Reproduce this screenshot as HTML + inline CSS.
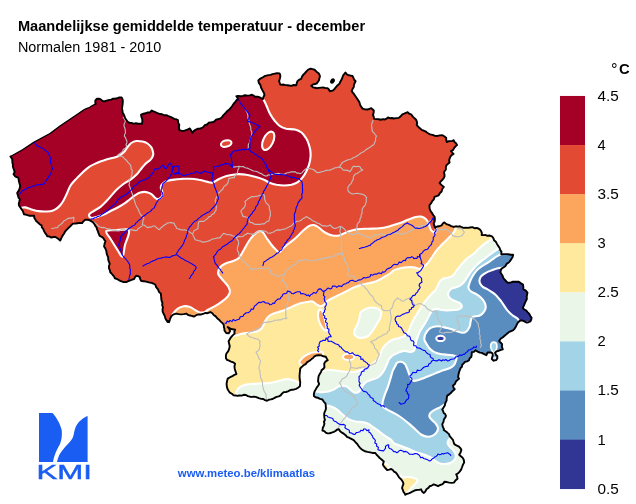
<!DOCTYPE html>
<html><head><meta charset="utf-8"><title>Maandelijkse gemiddelde temperatuur - december</title>
<style>
html,body{margin:0;padding:0;background:#fff}
body{width:636px;height:504px;overflow:hidden;position:relative;font-family:"Liberation Sans",Arial,Helvetica,sans-serif;color:#000}
svg{position:absolute;left:0;top:0;display:block}
svg text{font-family:"Liberation Sans",Arial,Helvetica,sans-serif}
</style></head><body>
<svg width="636" height="504" viewBox="0 0 636 504">
<defs><clipPath id="be"><path d="M10.5,156.5 L22.5,149.75 L33.75,142.25 L50,133.5 L60,126 L80,112.5 L81.6222,111.426 L83.1945,110.269 L84.8513,109.252 L86.9854,108.296 L89.2679,107.711 L91.1531,106.298 L93.3216,105.159 L95.5841,104.143 L95.2844,102.245 L95.3906,100.444 L96.9936,98.7427 L98.755,98.8047 L100.493,99.1016 L102.691,101.081 L105.054,101.233 L107.483,100.388 L109.349,99.9027 L111.292,99.6586 L113.044,98.6976 L115.037,98.6396 L117.237,98.3069 L119.301,97.3586 L121.59,97.3919 L122.227,98.5116 L122.779,100.11 L122.778,102.253 L122.587,104.51 L122.203,106.795 L121.933,109.096 L122.495,110.645 L122.595,112.674 L123.721,114.386 L124.532,116.237 L125.182,118.295 L126.416,120.045 L127.697,121.803 L129.591,122.909 L131.655,122.996 L133.706,123.876 L135.812,123.195 L137.875,123.763 L139.938,123.586 L142,123.935 L142.4,121.125 L142.144,118.75 L141.336,116.674 L141.074,114.55 L143.492,113.728 L145.601,113.269 L147.708,112.375 L149.993,112.433 L151.755,110.47 L153.586,111.477 L155.224,112.116 L157.544,113.103 L159.994,114.02 L162.146,114.238 L164.106,115.251 L166.343,115.111 L168.43,116.092 L170.498,116.964 L172.532,117.92 L174.252,118.89 L176.212,119.21 L177.94,120.165 L178.127,122.575 L179.326,124.935 L178.924,127.533 L179.411,130.009 L181.189,130.714 L182.973,131.093 L185.232,130.419 L187.421,129.645 L189.857,128.463 L191.265,130.75 L192.263,132.876 L193.542,131.258 L195.329,129.8 L197.529,128.797 L199.423,128.614 L201.303,128.263 L203.298,127.009 L204.809,125.213 L207.036,124.491 L208.593,122.765 L210.574,122.369 L212.475,122.311 L214.418,121.314 L216.024,119.661 L218.044,119.133 L219.971,118.664 L221.705,117.455 L222.936,115.686 L224.445,114.195 L225.918,112.668 L227.241,110.991 L229.325,109.594 L230.917,107.744 L232.341,105.753 L233.68,103.692 L235.128,102.051 L236.454,100.307 L238.106,98.84 L236.363,96.1708 L238.423,95.8927 L240.654,96.2106 L242.829,95.8854 L244.978,95.2477 L247.353,95.611 L249.678,95.3231 L251.984,94.7753 L253.582,95.5861 L254.899,96.7025 L257.574,96.6295 L260.011,97.4451 L262.839,99.1353 L263.546,96.7935 L264.503,95.0011 L263.994,93.1694 L263.135,91.5159 L262.232,89.884 L261.028,87.4889 L260.359,84.8563 L258.8,82.8389 L258.314,80.3605 L259.575,79.1853 L261.337,78.1129 L262.961,77.256 L264.496,76.1581 L266.322,75.6435 L268.355,75.0913 L270.519,74.9265 L272.535,74.146 L274.826,73.6133 L277.151,73.2263 L279.549,73.3452 L280.133,74.5841 L280.356,76.2942 L279.828,78.7157 L279.09,81.168 L280.273,84.458 L281.82,84.8146 L283.693,84.539 L285.489,85.1255 L287.404,85.3076 L289.314,85.5512 L291.221,85.8284 L293.726,85.0093 L296.282,85.3228 L296.743,83.081 L297.415,81.2215 L299.181,79.7097 L301.266,78.7738 L302.113,76.3974 L303.603,74.4135 L305.123,72.9695 L306.427,71.3858 L308.212,69.6237 L310.639,68.7153 L312.518,69.2029 L314.593,69.7517 L316.496,71.6828 L318.626,73.1757 L319.402,74.6147 L319.974,76.26 L319.395,78.3503 L318.885,80.4729 L317.802,81.8677 L316.799,83.3657 L315.033,84.0177 L313.054,84.4281 L311.213,85.7843 L313.123,87.3775 L314.91,87.7389 L316.797,88.2468 L318.756,87.9254 L321.238,87.6329 L323.755,87.5513 L325.572,88.1499 L327.49,88.0785 L328.896,89.5126 L329.817,91.3908 L333.17,90.4086 L334.804,88.6942 L336.188,86.9328 L337.666,85.1664 L339.475,83.7251 L340.462,81.4555 L341.713,79.3315 L342.453,77.2396 L343.308,75.0684 L344.378,73.8785 L345.448,72.4479 L346.848,74.3005 L348.946,75.2876 L350.669,75.6545 L352.54,76.0502 L353.444,77.9503 L354.199,79.7638 L355.591,81.1957 L354.635,83.0811 L353.957,84.9688 L353.768,87.0055 L352.548,88.9904 L351.676,91.1166 L353.018,92.9057 L354.255,94.4303 L355.328,96.0531 L356.683,97.9786 L358.028,99.9774 L359.405,102.338 L360.142,104.943 L361.254,106.872 L362.623,108.668 L364.969,109.333 L367.491,109.562 L369.386,108.778 L371.295,108.112 L372.447,109.303 L373.805,110.445 L373.672,112.799 L372.922,114.987 L373.775,116.925 L374.16,118.923 L376.264,119.109 L378.774,119.258 L380.833,119.73 L382.917,119.193 L385,119.445 L386.598,118.646 L387.959,117.438 L389.858,118.185 L391.907,117.997 L393.813,118.461 L396.22,118.175 L398.732,117.88 L400.662,116.289 L402.315,114.301 L404.19,113.714 L405.915,112.996 L407.561,112.123 L409.198,113.722 L411.485,114.706 L412.81,116.619 L414.448,118.15 L416.054,119.717 L416.812,121.291 L417.119,123.116 L416.769,125.032 L418.397,126.957 L420.234,128.563 L421.695,129.887 L423.586,130.594 L425.457,131.344 L426.863,132.523 L428.441,133.498 L430.084,134.383 L432.616,134.865 L435.041,135.864 L437.507,135.946 L439.981,135.386 L442.481,135.212 L444.569,136.459 L446.252,137.997 L446.212,140.077 L446.796,142.038 L448.658,141.196 L450.477,141.142 L452.162,141.035 L453.668,140.147 L454.618,142.155 L456.11,143.361 L457.041,144.97 L455.547,146.331 L454.241,147.784 L453.142,149.892 L451.048,151.048 L452.261,152.739 L453.535,153.965 L451.975,154.805 L450.57,156.341 L449.777,158.196 L449.121,160.173 L449.589,162.473 L447.984,163.892 L446.437,165.243 L445.851,167.25 L445.907,169.5 L444.786,170.822 L443.891,172.618 L444.457,174.309 L444.564,176.237 L443.57,178.339 L442.11,180.073 L440.676,181.439 L439.626,183.105 L441.362,184.902 L443.847,186.878 L442.245,188.975 L441.611,191.462 L439.757,193.232 L438.664,195.45 L436.611,196.209 L434.442,196.836 L433.892,199.31 L432.204,201.111 L431.148,203.244 L429.571,205.056 L429.489,206.25 L429.646,208.821 L430.74,211.202 L432.109,213.139 L433.416,215.29 L434.621,216.793 L434.874,218.792 L434.669,221.323 L433.691,223.735 L434.431,225.606 L434.944,227.519 L437.397,226.464 L439.935,225.99 L441.731,225.277 L442.815,223.529 L444.385,222.362 L446.402,224.129 L448.862,224.81 L451.223,226.067 L453.773,226.942 L455.78,226.306 L457.932,226.628 L460,226.253 L461.714,227.208 L463.537,227.825 L465.616,227.635 L467.839,227.913 L470.156,227.524 L472.476,227.17 L474.51,228.285 L476.739,227.972 L478.75,228.752 L480.17,229.83 L481.204,231.296 L481.882,233.074 L481.687,235.063 L483.839,235.11 L485.691,235.066 L487.476,235.769 L489.804,235.551 L491.965,236.461 L493.338,238.007 L494.028,240.16 L495.8,241.654 L496.851,243.652 L498.167,245.885 L499.637,248.042 L500.237,249.975 L501.395,251.627 L501.307,254.322 L503.482,254.132 L505.903,254.098 L508.286,254.277 L510.653,254.785 L513.106,254.801 L512.627,257.039 L511.563,258.671 L510.291,260.635 L508.778,262.507 L506.598,263.918 L505.299,266.189 L503.269,267.573 L501.292,268.896 L500.803,270.435 L500.388,272.256 L501.316,273.823 L502.495,275.596 L503.333,278.141 L505.189,280.067 L506.291,281.569 L507.81,282.73 L510.394,282.61 L512.982,281.617 L515.715,281.82 L518.39,281.638 L520.715,283.15 L522.971,284.455 L523.347,286.867 L523.358,289.188 L525.836,290.594 L527.491,292.509 L527.046,294.755 L526.666,296.821 L526.898,298.939 L525.829,301.215 L524.788,303.461 L523.854,305.667 L522.828,307.847 L524.022,309.378 L525.844,310.236 L527.531,312.119 L529.287,313.933 L530.363,315.96 L531.602,317.821 L531.241,319.638 L530.402,321.451 L528.521,322.199 L526.811,322.554 L523.816,321.09 L522.068,320.392 L520.152,320.474 L517.907,322.55 L516.68,324.89 L515.787,326.762 L514.679,328.579 L513.243,330.178 L511.144,331.091 L509.258,331.873 L507.586,333.185 L505.144,335.18 L502.89,337.168 L500.602,338.831 L499.133,341.083 L500.492,342.494 L502.132,344.194 L501.891,346.889 L502.824,349.244 L500.816,349.949 L498.518,350.846 L496.154,351.531 L495.004,352.802 L496.168,355.104 L497.354,356.01 L497.388,358.23 L496.251,360.125 L493.616,360.677 L491.81,359.106 L492.081,357.63 L492.737,355.177 L492.564,353.371 L490.599,352.426 L487.612,352.462 L486.416,355.156 L483.612,353.971 L481.943,352.848 L479.849,352.621 L477.679,351.578 L475.592,350.27 L473.943,351.837 L471.81,352.168 L471.666,354.757 L471.259,357.001 L469.657,358.214 L469.037,360.239 L467.078,361.381 L464.973,361.95 L463.657,363.423 L462.249,364.791 L461.914,366.79 L460.525,368.179 L459.873,369.937 L458.934,372.474 L458.401,375.161 L458.111,376.928 L458.999,378.7 L457.384,380.153 L455.909,381.466 L454.956,383.912 L453.048,385.541 L453.384,387.522 L454.678,389.179 L452.645,390.926 L451.033,392.812 L449.268,394.366 L447.22,395.65 L446.697,398.2 L446.593,400.595 L445.326,402.925 L444.78,405.445 L443.58,407.439 L442.284,409.477 L443.063,411.037 L443.728,413.01 L445.159,414.091 L445.94,415.81 L445.256,417.546 L443.919,419.363 L443.454,421.832 L442.283,424.196 L442.838,426.822 L443.968,429.196 L443.696,430.019 L446.348,431.715 L447.598,432.889 L449.031,434.106 L449.653,435.982 L451.198,437.935 L452.945,439.803 L453.594,441.984 L454.3,444.1 L456.344,445.307 L458.517,446.268 L460.147,447.853 L461.42,449.704 L460.558,452.405 L459.198,454.749 L460.885,456.254 L462.642,457.671 L463.82,459.937 L464.152,462.515 L462.868,464.898 L461.94,467.474 L461.081,469.665 L459.67,471.585 L458.208,473.22 L456.232,474.397 L457.185,476.628 L457.465,478.739 L455.377,480.577 L453.865,482.565 L451.494,482.921 L449.237,482.615 L446.918,482.061 L444.35,481.774 L443.576,483.26 L442.034,484.374 L440.041,485.022 L438.093,486.179 L435.865,485.153 L433.739,484.379 L431.717,485.551 L429.611,486.232 L428.434,487.917 L426.463,489.21 L425.39,491.266 L423.915,492.995 L422.079,491.407 L421.105,489.316 L419.161,489.856 L417.262,489.829 L415.417,490.234 L412.953,491.276 L410.559,492.579 L408.847,493.302 L406.944,493.814 L405.297,494.757 L404.697,493.425 L403.552,492.009 L402.866,490.011 L402.009,487.964 L402.69,485.879 L403.487,483.761 L402.621,481.415 L401.284,479.458 L399.837,478.063 L398.545,476.555 L397.26,474.381 L395.626,472.383 L393.894,471.568 L392.793,469.993 L391.211,469.009 L389.255,469.58 L387.167,470.003 L385.718,468.526 L384.546,467.172 L382.846,464.675 L383.794,461.564 L381.27,459.184 L379.667,458.005 L378.222,456.405 L376.633,454.769 L375.159,452.873 L372.482,452.933 L370.015,452.35 L367.459,451.885 L364.922,451.26 L363.345,450.391 L361.853,449.502 L360.074,447.843 L358.597,445.986 L357.234,444.016 L355.407,442.101 L353.659,440.07 L351.297,438.882 L348.891,437.647 L346.953,436.924 L345.643,435.199 L344.01,433.903 L341.989,432.678 L340.139,431.195 L338.865,429.135 L336.915,429.746 L335.47,431.023 L333.825,431.9 L331.731,432.561 L329.675,433.242 L327.46,433.358 L325.736,432.663 L324.367,431.166 L322.457,430.571 L322.801,427.919 L323.896,425.536 L324.429,423.725 L323.92,421.788 L324.919,420.057 L324.394,417.899 L324.239,415.805 L324.148,413.702 L324.622,412.103 L325.445,410.431 L325.962,408.606 L325.796,406.262 L325.547,403.743 L323.827,401.747 L322.452,399.534 L319.97,398.85 L317.587,397.709 L315.566,397.251 L313.901,395.927 L313.883,393.714 L314.635,391.27 L315.75,389.375 L316.851,387.401 L318.103,385.731 L319.149,383.936 L318.043,381.3 L318.277,378.708 L318.641,376.106 L319.879,373.702 L321.015,372.005 L321.647,370.132 L323.109,369.055 L324.421,367.397 L324.337,365.583 L324.171,363.666 L325.348,361.598 L327.709,360.209 L326.668,358.388 L325.824,356.784 L323.36,356.292 L321.293,355.378 L318.75,355.264 L316.25,355.503 L314.476,356.419 L313.056,357.881 L311.473,359.094 L309.553,360.803 L307.191,362.191 L305.664,364.048 L303.532,365.227 L301.826,366.826 L300.235,368.485 L299.956,371.241 L299.687,373.787 L299.569,375.841 L299.591,377.936 L299.801,380.016 L300.253,382.117 L300.065,384.198 L299.919,386.284 L298.013,387.679 L296.308,388.826 L294.198,389.445 L292.02,389.692 L289.936,390.271 L287.976,391.352 L285.875,391.963 L283.643,392.165 L281.98,393.612 L280.669,395.337 L278.842,396.373 L276.559,396.813 L274.571,397.886 L272.6,399 L270.69,399.406 L268.785,399.765 L267.088,400.777 L265.019,400.128 L263.256,399.04 L261.221,398.845 L258.731,398.201 L256.357,397.073 L254.248,396.679 L252.049,396.84 L249.912,396.691 L247.859,396.123 L245.917,394.997 L243.786,394.821 L241.714,395.653 L239.512,395.477 L237.433,395.917 L235.685,395.444 L233.613,395.412 L231.889,393.729 L229.861,392.708 L228.567,390.747 L227.42,388.803 L226.789,386.272 L226.585,383.666 L227.018,381.213 L227.716,378.651 L230.1,377.229 L232.484,376.221 L234.264,374.833 L236.419,374.004 L235.485,371.211 L234.697,368.681 L234.461,366.221 L235.06,363.756 L233.22,362.357 L231.024,361.588 L229.099,360.712 L227.043,359.855 L225.96,358.241 L225.882,356.097 L226.101,354.467 L226.859,352.763 L228.151,351.326 L229.168,348.876 L229.735,346.321 L229.153,343.746 L228.597,341.273 L229.787,339.233 L230.924,337.283 L232.682,335.343 L234.59,333.573 L234.373,331.588 L235.139,329.723 L232.502,329.293 L230.427,328.518 L227.663,326.974 L229.014,328.333 L230.139,331.066 L228.628,333.419 L226.2,333.048 L224.466,330.564 L224.424,328.655 L223.849,326.95 L223.799,324.945 L222.648,323.32 L220.728,321.646 L219.013,319.685 L217.18,318.236 L215.73,316.353 L213.705,315.045 L212.352,313.254 L210.46,312.043 L207.563,313.19 L205.544,312.968 L203.728,313.641 L201.298,314.442 L198.741,314.439 L196.193,315.213 L193.858,316.559 L191.872,315.89 L189.99,315.549 L188.004,314.883 L186.321,313.598 L183.752,314.136 L181.237,314.415 L178.755,314.093 L176.265,313.648 L174.296,314.137 L172.505,315.014 L171.131,316.678 L170.181,318.58 L169.661,320.394 L169.05,322.162 L166.244,320.007 L165.278,318.17 L164.817,316.102 L163.59,313.798 L162.621,311.364 L162.56,309.189 L163.006,307.056 L162.161,305.027 L162.445,302.844 L161.605,300.846 L161.286,298.743 L161.102,296.216 L160.827,293.701 L158.95,291.802 L158.069,289.46 L156.267,287.405 L155.34,284.773 L153.26,283.547 L151.127,282.684 L148.736,282.388 L146.293,281.574 L143.811,281.217 L141.286,281.012 L140.227,279.242 L139.758,277.071 L138.16,276.164 L136.152,275.745 L134.988,277.116 L134.102,279.021 L132.099,279.615 L130.426,280.436 L128.618,280.985 L126.283,282.009 L123.663,282.151 L121.508,281.449 L119.28,280.374 L117.232,279.04 L114.878,278.274 L114.057,276.312 L112.717,274.975 L111.544,273.49 L110.186,272.199 L109.885,270.266 L109.083,268.583 L108.931,266.221 L109.78,263.792 L108.885,261.694 L108.225,259.649 L108.154,257.463 L107.273,255.457 L106.661,253.381 L106.375,251.215 L105.501,248.706 L104.088,246.394 L104.584,243.667 L105.532,241.256 L104.3,239.8 L103.439,238.167 L101.774,236.763 L99.6549,235.874 L98.6769,233.679 L97.854,231.108 L96.9948,229.277 L96.5291,227.291 L95.078,225.647 L94.9047,224.814 L93.902,223.446 L92.8829,222.085 L91.1471,221.18 L89.4196,220.141 L87.5,219.781 L85.5,219.596 L83.5028,221.212 L82.0644,223.075 L79.75,222.907 L77.5,223.242 L75.2873,223.668 L72.9197,223.638 L71.2298,225.222 L69.7156,226.802 L67.8877,228.51 L66.0481,230.336 L64.875,231.896 L64.0186,233.724 L62.7108,235.427 L61.6383,237.333 L60.9781,238.98 L60.2079,240.596 L58.1824,238.757 L55.53,236.963 L53.3431,236.979 L51.2609,237.592 L49.4893,236.464 L47.3353,236.412 L46.3811,234.579 L45.2684,233.154 L44.0734,231.11 L43.1795,228.888 L41.8664,227.379 L41.5542,225.348 L39.6685,224.193 L38.2061,222.732 L36.3859,221.228 L35.1656,219.209 L34.2619,217.712 L34.1286,215.779 L31.6623,215.694 L29.5207,215.725 L27.4698,215.189 L25.7139,214.626 L23.9404,214.209 L22.8421,211.053 L21.8047,209.63 L20.8116,208.126 L18.9519,205.538 L18.8194,203.307 L19.4215,201.173 L19.7757,199.021 L18.4892,197.63 L18.1104,195.945 L17.1587,192.947 L18.8712,190.397 L19.6514,188.217 L20.1924,185.897 L19.5954,183.708 L18.8933,181.325 L18.6989,179.593 L18.1433,177.707 L16.7247,177.06 L15.1034,176.292 L13.5315,174.103 L14.6032,172.206 L14.1589,170.134 L13.4026,168.309 L12.8337,166.448 L12.9231,164.456 L12.4165,162.631 L12.2909,160.736 L12.1329,158.847Z"/></clipPath></defs>
<g clip-path="url(#be)">
<rect x="0" y="60" width="560" height="444" fill="#e34a33"/>
<path d="M263.0,98.8 C263.5,99.8 265.1,102.5 266.2,105.0 C267.4,107.5 268.5,111.0 270.0,113.8 C271.5,116.5 273.3,119.2 275.0,121.2 C276.7,123.3 278.1,125.0 280.0,126.2 C281.9,127.5 283.8,128.2 286.2,128.8 C288.8,129.3 292.5,128.9 295.0,129.5 C297.5,130.1 299.7,131.1 301.5,132.5 C303.3,133.9 304.8,136.2 306.0,138.0 C307.2,139.8 307.8,141.5 308.5,143.5 C309.2,145.5 309.9,147.5 310.2,149.8 C310.6,152.0 310.7,154.8 310.5,157.2 C310.3,159.8 309.7,162.5 309.0,164.8 C308.3,167.0 307.5,168.9 306.5,171.0 C305.5,173.1 304.2,175.4 302.8,177.2 C301.3,179.1 299.6,181.0 297.8,182.2 C295.9,183.5 293.8,184.2 291.5,184.8 C289.2,185.3 286.5,185.5 284.0,185.5 C281.5,185.5 278.8,185.2 276.5,184.8 C274.2,184.3 272.3,183.8 270.2,183.0 C268.2,182.2 266.3,180.7 264.0,179.8 C261.7,178.8 259.4,178.1 256.5,177.2 C253.6,176.4 249.8,175.2 246.5,174.8 C243.2,174.2 239.8,174.0 236.5,174.2 C233.2,174.5 229.4,175.2 226.5,176.0 C223.6,176.8 221.3,177.9 219.0,179.0 C216.7,180.1 214.4,182.1 212.8,182.6 C211.1,183.1 211.3,182.7 209.0,182.2 C206.7,181.8 202.3,180.3 199.0,179.8 C195.7,179.2 192.2,178.8 189.4,178.7 C186.6,178.6 184.4,178.8 181.9,178.9 C179.4,179.1 176.7,179.3 174.3,179.6 C171.9,179.9 169.4,180.3 167.7,180.8 C166.0,181.2 165.0,181.8 164.0,182.5 C163.0,183.2 162.0,184.0 161.5,184.9 C161.0,185.8 160.7,186.6 160.8,187.7 C160.8,188.8 161.8,190.2 162.1,191.5 C162.4,192.8 162.9,194.2 162.6,195.3 C162.3,196.4 161.1,197.5 160.2,198.1 C159.3,198.7 158.3,199.2 157.4,199.1 C156.5,198.9 155.4,198.0 154.5,197.2 C153.6,196.4 152.8,195.1 151.7,194.3 C150.6,193.5 149.2,193.0 147.9,192.6 C146.7,192.2 145.4,191.9 144.2,191.9 C142.9,191.9 141.7,192.1 140.4,192.5 C139.1,192.9 137.7,193.7 136.6,194.3 C135.5,194.9 135.1,195.2 133.8,196.2 C132.6,197.1 130.5,198.9 129.1,200.0 C127.7,201.1 127.2,201.6 125.3,202.8 C123.4,204.1 120.2,206.1 117.7,207.5 C115.2,208.9 112.7,210.0 110.2,211.3 C107.7,212.6 105.4,214.0 102.6,215.1 C99.8,216.2 95.3,217.6 93.2,217.9 C91.1,218.2 90.4,217.6 89.8,217.0 C89.2,216.4 88.8,215.1 89.4,214.2 C90.0,213.2 91.3,212.6 93.2,211.3 C95.1,210.0 98.3,208.6 100.8,206.6 C103.3,204.6 105.8,201.8 108.3,199.1 C110.8,196.4 113.3,193.1 115.8,190.6 C118.3,188.1 120.9,185.9 123.4,184.0 C125.9,182.1 128.7,180.9 130.9,179.3 C133.1,177.7 135.0,176.1 136.6,174.5 C138.2,172.9 139.0,171.5 140.4,169.8 C141.8,168.1 143.4,165.9 145.1,164.2 C146.8,162.5 149.4,161.0 150.8,159.4 C152.1,157.8 152.9,156.2 153.2,154.7 C153.5,153.2 152.9,151.7 152.6,150.5 C152.3,149.3 152.1,148.4 151.2,147.2 C150.4,146.1 149.0,144.5 147.5,143.5 C146.0,142.5 144.4,141.9 142.5,141.5 C140.6,141.1 138.1,140.8 136.2,141.0 C134.4,141.2 132.7,142.0 131.2,143.0 C129.8,144.0 128.8,145.7 127.5,147.2 C126.2,148.8 125.4,150.7 123.8,152.2 C122.1,153.8 119.8,155.5 117.5,156.5 C115.2,157.5 112.2,157.9 110.0,158.5 C107.8,159.1 106.5,159.4 104.3,160.2 C102.1,160.9 99.3,161.9 96.8,163.0 C94.3,164.1 91.6,165.2 89.2,166.8 C86.8,168.4 84.8,170.4 82.6,172.5 C80.4,174.6 78.0,176.9 76.0,179.1 C74.0,181.3 72.0,183.2 70.4,185.7 C68.8,188.2 67.9,191.5 66.6,194.2 C65.3,196.9 64.2,199.5 62.8,201.7 C61.4,203.9 59.8,205.9 58.1,207.4 C56.4,208.9 54.5,210.1 52.5,210.8 C50.5,211.5 48.2,211.4 45.8,211.5 C43.4,211.6 40.8,211.5 38.3,211.1 C35.8,210.7 33.0,209.8 30.8,209.2 C28.6,208.6 26.8,207.7 25.1,207.4 C23.5,207.2 22.8,207.6 20.9,207.7 C19.0,207.8 15.2,207.9 14.0,208.0 L0,208 L0,60 L236,60 L236,94 L252,93.5 L262,96.5Z" fill="#a50026" stroke="#fff" stroke-width="2.1" stroke-linejoin="round"/>
<ellipse cx="226.2" cy="143.6" rx="5.4" ry="3.1" transform="rotate(-15 226.2 143.6)" fill="#e34a33" stroke="#fff" stroke-width="2.1"/>
<ellipse cx="268.2" cy="140.8" rx="5.0" ry="9.8" transform="rotate(25 268.2 140.8)" fill="#e34a33" stroke="#fff" stroke-width="2.1"/>
<path d="M106.2,231.2 C107.0,229.6 112.4,230.5 116.0,230.2 C119.6,229.9 125.9,228.8 128.0,229.6 C130.1,230.4 129.0,232.4 128.5,235.0 C128.0,237.6 126.0,241.4 125.0,245.0 C124.0,248.6 123.8,255.7 122.5,256.5 C121.2,257.3 119.4,252.8 117.5,250.0 C115.6,247.2 113.1,243.1 111.2,240.0 C109.4,236.9 105.5,232.9 106.2,231.2Z" fill="#a50026" stroke="#fff" stroke-width="2.1" stroke-linejoin="round"/>
<path d="M172.5,314.5 C173.3,313.5 175.6,310.1 177.5,308.8 C179.4,307.4 181.7,306.5 183.8,306.2 C185.8,306.0 188.1,306.4 190.0,307.0 C191.9,307.6 193.3,309.1 195.0,310.0 C196.7,310.9 198.3,312.2 200.0,312.5 C201.7,312.8 203.8,312.4 205.0,312.0 C206.2,311.6 205.8,311.0 207.5,310.0 C209.2,309.0 212.5,307.7 215.0,306.2 C217.5,304.8 220.3,302.9 222.5,301.2 C224.7,299.6 226.8,297.9 228.0,296.2 C229.2,294.6 230.0,292.9 230.0,291.2 C230.0,289.6 229.0,287.9 228.0,286.2 C227.0,284.6 225.2,282.9 223.8,281.2 C222.3,279.6 220.5,277.7 219.5,276.2 C218.5,274.8 217.9,274.0 218.0,272.5 C218.1,271.0 218.8,269.0 220.0,267.5 C221.2,266.0 222.9,264.8 225.0,263.8 C227.1,262.7 230.2,262.2 232.5,261.2 C234.8,260.3 236.9,259.9 238.8,258.0 C240.6,256.1 242.1,252.8 243.8,250.0 C245.4,247.2 247.1,243.8 248.8,241.2 C250.4,238.8 252.1,236.7 253.8,235.0 C255.4,233.3 257.3,231.8 258.8,231.2 C260.2,230.8 261.2,231.0 262.5,232.0 C263.8,233.0 264.8,235.4 266.2,237.5 C267.7,239.6 269.6,242.4 271.2,244.5 C272.9,246.6 274.9,248.8 276.2,250.0 C277.6,251.2 278.2,252.4 279.5,252.0 C280.8,251.6 282.0,249.1 283.8,247.5 C285.5,245.9 287.9,244.2 290.0,242.5 C292.1,240.8 294.2,239.4 296.2,237.5 C298.3,235.6 300.4,233.1 302.5,231.2 C304.6,229.4 306.9,227.3 308.8,226.2 C310.6,225.2 312.1,224.8 313.8,225.0 C315.4,225.2 316.9,226.2 318.8,227.5 C320.6,228.8 322.7,231.2 325.0,232.5 C327.3,233.8 330.0,235.1 332.5,235.5 C335.0,235.9 337.5,235.8 340.0,235.2 C342.5,234.6 344.7,232.7 347.5,231.7 C350.3,230.7 353.5,229.7 357.0,229.2 C360.5,228.7 364.5,228.8 368.3,228.7 C372.1,228.5 376.2,228.7 379.6,228.3 C383.1,227.9 385.9,227.2 389.0,226.4 C392.1,225.6 395.4,224.7 398.5,223.6 C401.6,222.5 405.1,220.9 407.9,219.8 C410.7,218.7 413.3,217.5 415.5,217.0 C417.7,216.5 419.4,216.3 421.1,216.6 C422.8,216.9 424.5,217.7 425.8,218.9 C427.1,220.1 428.0,222.0 428.7,223.6 C429.4,225.2 429.6,227.0 430.2,228.3 C430.8,229.7 431.6,231.0 432.5,231.7 C433.4,232.4 434.8,232.4 435.3,232.5 L437,220 L560,220 L560,504 L172.5,504Z" fill="#fca55d" stroke="#fff" stroke-width="2.1" stroke-linejoin="round"/>
<path d="M231.0,336.2 C231.8,336.1 234.3,335.8 236.1,335.4 C237.9,335.0 239.7,334.1 241.8,333.7 C243.9,333.3 246.6,333.1 248.9,332.8 C251.2,332.5 254.0,332.3 255.9,331.8 C257.8,331.3 259.0,330.6 260.2,329.7 C261.4,328.8 262.2,327.6 263.0,326.2 C263.8,324.8 264.3,322.7 265.1,321.2 C265.9,319.7 266.8,318.2 268.0,317.0 C269.2,315.8 270.4,314.9 272.2,314.1 C274.0,313.3 276.6,312.6 278.6,312.0 C280.6,311.4 282.3,310.9 284.2,310.2 C286.1,309.5 288.0,308.7 289.9,307.8 C291.8,306.9 293.7,305.8 295.6,305.0 C297.5,304.2 299.3,303.6 301.2,303.1 C303.1,302.6 305.0,302.4 306.9,302.1 C308.8,301.8 310.8,301.0 312.5,301.5 C314.2,302.0 315.8,304.1 317.2,304.9 C318.6,305.7 319.6,306.3 320.9,306.2 C322.1,306.1 323.4,305.0 324.7,304.0 C326.0,303.0 326.6,301.5 328.5,300.2 C330.4,298.9 333.2,297.8 336.0,296.4 C338.8,295.0 342.4,293.3 345.5,291.7 C348.6,290.1 351.8,288.2 354.9,287.0 C358.0,285.8 360.8,285.1 364.3,284.2 C367.8,283.3 372.2,282.8 375.7,281.5 C379.2,280.2 382.7,277.8 385.1,276.5 C387.5,275.2 388.4,274.6 390.0,273.5 C391.6,272.4 392.3,270.9 394.7,269.9 C397.1,268.9 401.0,267.9 404.2,267.5 C407.4,267.1 411.1,267.1 413.6,267.3 C416.1,267.5 417.6,268.9 419.2,268.9 C420.8,268.8 421.6,267.9 423.0,267.0 C424.4,266.1 426.1,264.9 427.7,263.2 C429.3,261.4 430.9,258.6 432.4,256.5 C433.9,254.4 435.0,252.4 436.6,250.4 C438.2,248.4 440.3,246.2 442.2,244.3 C444.1,242.4 446.2,240.3 447.9,238.7 C449.6,237.0 451.0,235.8 452.2,234.4 C453.4,233.0 454.3,231.9 454.9,230.5 C455.5,229.1 455.8,226.8 456.0,226.0 L456,220 L560,220 L560,504 L222,504 L222,338Z" fill="#fee99d" stroke="#fff" stroke-width="2.1" stroke-linejoin="round"/>
<path d="M319.5,309.6 C320.1,309.1 321.2,309.7 321.9,310.6 C322.6,311.6 323.2,313.3 323.8,315.3 C324.4,317.3 325.2,320.3 325.7,322.8 C326.2,325.3 326.9,329.3 326.6,330.4 C326.3,331.5 324.8,330.3 323.8,329.4 C322.8,328.4 321.5,326.4 320.6,324.7 C319.7,323.0 318.9,321.0 318.5,319.1 C318.1,317.2 317.9,315.0 318.1,313.4 C318.3,311.8 318.9,310.1 319.5,309.6Z" fill="#fca55d" stroke="#fff" stroke-width="2.1" stroke-linejoin="round"/>
<ellipse cx="348.6" cy="356.9" rx="5.6" ry="3.2" transform="rotate(0 348.6 356.9)" fill="#fca55d" stroke="#fff" stroke-width="2.1"/>
<path d="M299.5,363.6 C298.7,362.2 301.2,359.1 302.8,357.5 C304.4,355.9 306.8,354.7 308.8,353.8 C310.8,352.9 312.8,352.6 315.0,352.3 C317.2,352.0 320.8,351.4 322.0,352.0 C323.2,352.6 323.8,354.8 322.0,356.0 C320.2,357.2 313.4,357.5 311.0,359.2 C308.6,360.9 309.6,365.3 307.7,366.0 C305.8,366.7 300.3,365.0 299.5,363.6Z" fill="#fca55d" stroke="#fff" stroke-width="2.1" stroke-linejoin="round"/>
<path d="M360.6,312.5 C361.7,311.1 363.9,309.5 366.2,308.7 C368.5,307.9 372.3,307.4 374.7,307.7 C377.1,308.0 379.4,309.2 380.4,310.6 C381.4,312.0 381.4,314.2 380.9,316.2 C380.4,318.2 378.9,320.4 377.5,322.8 C376.1,325.2 374.4,328.2 372.8,330.4 C371.2,332.6 370.1,334.8 368.1,336.0 C366.1,337.2 362.8,338.0 360.6,337.9 C358.4,337.8 355.9,336.4 354.9,335.1 C353.9,333.9 354.0,332.3 354.5,330.4 C355.0,328.5 356.8,326.0 357.7,323.8 C358.6,321.6 359.1,319.1 359.6,317.2 C360.1,315.3 359.5,313.9 360.6,312.5Z" fill="#e9f6e8" stroke="#fff" stroke-width="2.1" stroke-linejoin="round"/>
<path d="M235.7,395.2 C235.9,394.4 236.3,391.7 237.1,390.3 C237.9,388.9 239.1,387.6 240.6,386.7 C242.1,385.8 244.2,385.1 246.3,384.6 C248.4,384.1 251.1,384.1 253.4,383.9 C255.8,383.7 258.0,383.6 260.4,383.5 C262.8,383.4 265.1,383.4 267.5,383.2 C269.9,383.0 272.5,382.6 274.6,382.1 C276.7,381.6 278.3,380.9 280.2,380.4 C282.1,379.9 284.0,379.3 285.9,379.2 C287.8,379.1 289.8,379.3 291.6,379.7 C293.4,380.1 295.2,380.8 296.5,381.5 C297.8,382.2 298.8,383.5 299.3,383.9 L304,386 L304,410 L230,410 L230,397Z" fill="#e9f6e8" stroke="#fff" stroke-width="2.1" stroke-linejoin="round"/>
<path d="M492.5,236.5 C492.1,237.1 491.4,238.8 490.2,239.9 C489.0,241.0 486.9,242.0 485.1,243.3 C483.3,244.7 481.3,246.3 479.4,248.0 C477.5,249.7 475.8,252.0 473.8,253.7 C471.8,255.4 469.2,256.8 467.4,258.3 C465.6,259.8 464.4,261.2 463.0,262.7 C461.6,264.2 460.4,265.6 459.2,267.1 C458.0,268.6 456.9,270.1 455.9,271.5 C454.9,272.9 454.3,274.4 453.1,275.4 C451.9,276.4 450.4,277.1 448.7,277.6 C447.0,278.2 444.7,278.1 443.2,278.7 C441.7,279.3 440.8,280.2 439.9,281.4 C439.0,282.6 438.4,284.3 437.7,285.8 C437.0,287.3 436.4,288.9 435.5,290.2 C434.6,291.4 433.4,292.0 432.2,293.3 C430.9,294.6 429.4,296.3 428.0,298.0 C426.6,299.7 424.8,301.9 423.5,303.7 C422.2,305.5 421.6,306.7 420.1,309.0 C418.7,311.3 416.3,314.8 414.8,317.4 C413.3,320.0 412.4,322.1 411.3,324.5 C410.2,326.9 409.5,329.7 408.4,331.6 C407.3,333.5 406.4,334.8 404.9,335.8 C403.4,336.9 400.8,337.4 399.2,337.9 C397.6,338.4 395.9,338.7 395.0,338.9 C394.1,339.1 394.7,338.6 393.5,339.2 C392.3,339.8 389.4,341.4 387.8,342.7 C386.2,344.0 384.7,345.6 383.6,347.0 C382.5,348.4 382.1,349.6 381.4,351.2 C380.7,352.8 380.4,355.1 379.3,356.9 C378.2,358.7 376.8,360.3 375.1,361.8 C373.5,363.3 371.5,364.8 369.4,366.1 C367.3,367.4 364.6,368.7 362.3,369.6 C360.0,370.5 357.7,371.3 355.3,371.7 C352.9,372.1 350.6,372.2 348.2,372.1 C345.8,372.0 343.5,371.6 341.1,371.3 C338.7,371.0 336.1,370.5 334.0,370.3 C331.9,370.1 330.0,369.8 328.4,369.9 C326.8,370.0 325.7,370.7 324.1,371.0 C322.5,371.3 319.9,371.4 319.0,371.5 L305,376 L305,504 L560,504 L560,232 L495,232Z" fill="#e9f6e8" stroke="#fff" stroke-width="2.1" stroke-linejoin="round"/>
<path d="M400.0,476.5 C400.8,473.2 401.2,477.3 402.6,477.4 C404.0,477.5 406.4,476.9 408.3,477.0 C410.2,477.1 412.4,477.6 413.9,478.1 C415.4,478.6 417.2,479.3 417.5,480.2 C417.8,481.1 416.3,482.5 415.4,483.7 C414.4,484.9 412.9,486.1 411.8,487.3 C410.7,488.5 410.2,489.6 409.0,490.8 C407.8,492.0 406.6,493.5 404.8,494.5 C403.0,495.5 398.8,500.0 398.0,497.0 C397.2,494.0 399.2,479.8 400.0,476.5Z" fill="#fee99d" stroke="#fff" stroke-width="2.1" stroke-linejoin="round"/>
<path d="M382.0,462.5 C382.6,461.6 384.4,462.9 385.5,463.5 C386.6,464.1 388.2,465.3 388.6,466.3 C389.0,467.3 388.6,468.8 388.0,469.6 C387.4,470.4 386.0,471.1 385.0,471.0 C384.0,470.9 382.5,470.4 382.0,469.0 C381.5,467.6 381.4,463.4 382.0,462.5Z" fill="#fee99d" stroke="#fff" stroke-width="2.1" stroke-linejoin="round"/>
<path d="M500.0,246.0 C499.6,246.5 498.9,247.9 497.7,249.0 C496.5,250.1 494.0,251.7 492.6,252.7 C491.2,253.7 490.7,254.1 489.4,255.0 C488.1,255.9 486.5,257.2 485.0,258.3 C483.5,259.4 482.1,260.4 480.6,261.6 C479.1,262.8 477.6,264.1 476.2,265.5 C474.8,266.9 473.6,268.4 472.4,269.9 C471.2,271.4 470.1,272.8 469.1,274.3 C468.1,275.8 467.2,277.3 466.3,278.7 C465.4,280.1 464.7,281.3 463.6,282.5 C462.5,283.7 461.1,285.0 459.7,285.8 C458.3,286.6 456.8,286.9 455.3,287.5 C453.8,288.1 452.0,288.4 450.9,289.1 C449.8,289.8 449.1,290.9 448.7,291.9 C448.2,292.9 447.9,294.1 448.2,295.2 C448.5,296.3 449.4,297.6 450.4,298.5 C451.4,299.4 452.9,300.1 454.2,300.7 C455.5,301.3 456.9,301.7 458.1,302.3 C459.3,302.9 460.6,303.6 461.2,304.5 C461.8,305.4 462.1,306.6 461.4,307.5 C460.7,308.4 458.8,309.3 457.2,309.7 C455.6,310.1 453.5,310.0 451.6,310.1 C449.7,310.2 447.8,310.5 445.9,310.4 C444.0,310.3 441.9,309.9 440.3,309.7 C438.7,309.4 437.3,308.8 436.0,308.9 C434.7,309.0 433.6,309.4 432.5,310.4 C431.4,311.3 430.6,313.0 429.7,314.6 C428.8,316.2 427.9,318.4 426.8,320.3 C425.7,322.2 424.5,324.0 423.3,325.9 C422.1,327.8 420.8,329.7 419.8,331.6 C418.9,333.5 418.2,335.6 417.6,337.2 C417.0,338.8 416.6,340.0 416.2,341.5 C415.8,343.0 415.9,344.5 415.5,346.0 C415.1,347.5 414.9,349.5 414.1,350.5 C413.3,351.5 412.1,351.8 410.6,351.9 C409.1,352.0 406.7,350.9 404.9,350.9 C403.1,350.9 401.6,351.4 400.0,352.0 C398.4,352.6 396.1,353.8 395.0,354.3 C393.9,354.8 394.5,354.0 393.5,354.8 C392.5,355.6 390.4,357.2 389.2,359.0 C388.0,360.8 387.5,363.2 386.4,365.4 C385.3,367.6 384.2,370.4 382.8,372.4 C381.4,374.4 379.7,376.2 377.9,377.4 C376.1,378.6 374.1,378.8 372.2,379.5 C370.3,380.2 368.1,380.7 366.6,381.6 C365.1,382.6 363.9,383.9 363.0,385.2 C362.1,386.5 361.7,388.2 360.9,389.4 C360.1,390.6 359.3,391.7 358.1,392.2 C356.9,392.7 355.1,392.7 353.8,392.2 C352.5,391.7 351.5,390.3 350.3,389.4 C349.1,388.5 348.1,387.2 346.8,386.6 C345.5,386.0 343.9,385.6 342.5,385.6 C341.1,385.6 339.7,386.0 338.3,386.6 C336.9,387.2 335.6,388.6 334.0,389.4 C332.4,390.2 330.5,391.0 328.4,391.5 C326.3,392.0 323.4,392.2 321.3,392.2 C319.2,392.2 317.9,391.6 315.7,391.5 C313.5,391.4 309.3,389.2 308.0,391.5 C306.7,393.8 306.0,402.8 308.0,405.0 C310.0,407.2 316.9,404.9 320.0,405.0 C323.1,405.1 324.4,405.2 326.3,405.5 C328.2,405.8 329.6,406.0 331.2,406.6 C332.8,407.2 334.5,407.9 336.2,409.0 C337.9,410.1 339.6,411.8 341.1,413.2 C342.6,414.6 343.8,415.9 345.4,417.1 C347.0,418.3 349.1,419.5 351.0,420.3 C352.9,421.1 354.8,421.4 356.7,421.7 C358.6,422.0 360.4,421.8 362.3,422.1 C364.2,422.5 366.1,422.9 368.0,423.8 C369.9,424.7 371.7,426.1 373.6,427.4 C375.5,428.7 377.4,430.2 379.3,431.6 C381.2,433.0 383.1,434.6 385.0,435.9 C386.9,437.2 389.1,438.2 390.6,439.4 C392.1,440.6 392.3,442.2 394.1,443.3 C395.9,444.4 398.8,445.2 401.2,446.1 C403.6,447.0 405.9,447.6 408.3,448.6 C410.7,449.6 413.0,451.0 415.4,451.9 C417.8,452.8 420.3,453.3 422.4,454.0 C424.5,454.7 426.5,455.5 428.1,456.2 C429.8,456.9 431.0,457.4 432.3,458.3 C433.6,459.2 434.5,460.5 435.9,461.4 C437.3,462.3 439.0,463.3 440.8,463.7 C442.6,464.1 444.7,464.1 446.5,463.9 C448.3,463.7 450.0,463.3 451.4,462.5 C452.8,461.7 454.3,460.3 455.0,459.0 C455.7,457.7 455.9,456.2 455.7,454.8 C455.5,453.4 454.6,451.8 453.6,450.5 C452.7,449.2 451.0,448.2 450.0,447.0 C449.0,445.8 447.8,444.6 447.6,443.4 C447.4,442.2 448.1,440.8 448.6,439.9 C449.1,439.0 449.6,438.4 450.7,437.8 C451.8,437.2 454.3,436.3 455.0,436.0 L470,436 L560,436 L560,244Z" fill="#a3d3e6" stroke="#fff" stroke-width="2.1" stroke-linejoin="round"/>
<path d="M503.0,253.5 C502.2,253.8 499.7,254.8 498.2,255.6 C496.7,256.4 495.3,257.3 493.8,258.3 C492.3,259.3 490.9,260.6 489.4,261.6 C487.9,262.6 486.5,263.5 485.0,264.4 C483.5,265.3 482.0,266.1 480.6,267.1 C479.2,268.1 478.0,269.1 476.8,270.4 C475.6,271.7 474.5,273.2 473.5,274.8 C472.5,276.4 471.4,278.2 470.7,279.8 C470.0,281.4 469.5,282.8 469.1,284.2 C468.7,285.6 468.2,286.8 468.5,288.0 C468.8,289.2 469.6,290.4 470.7,291.3 C471.8,292.2 473.6,292.7 475.1,293.5 C476.6,294.3 478.2,295.3 479.5,296.3 C480.8,297.3 481.9,298.4 482.8,299.6 C483.7,300.8 484.5,301.9 485.0,303.4 C485.5,304.8 485.9,306.7 485.6,308.3 C485.3,309.9 484.1,311.8 483.0,313.0 C481.9,314.2 480.9,315.2 479.2,315.8 C477.5,316.4 474.0,316.0 472.6,316.8 C471.2,317.6 471.3,319.0 470.8,320.6 C470.3,322.2 470.4,324.5 469.8,326.2 C469.2,327.9 468.2,329.8 467.0,330.9 C465.8,332.0 464.0,332.8 462.3,332.8 C460.6,332.8 459.1,331.7 456.6,330.9 C454.1,330.1 450.4,328.9 447.2,328.1 C444.0,327.3 440.5,326.2 437.7,326.2 C434.9,326.2 432.2,326.8 430.2,328.1 C428.2,329.4 426.5,332.0 425.5,333.8 C424.5,335.6 424.3,337.6 424.3,339.0 C424.3,340.4 424.6,340.6 425.4,342.0 C426.2,343.4 427.5,346.1 428.9,347.7 C430.3,349.3 432.0,350.8 433.9,351.9 C435.8,352.9 438.1,353.5 440.3,354.0 C442.5,354.5 445.1,354.6 447.3,354.8 C449.5,355.1 452.2,355.1 453.7,355.5 C455.2,355.9 456.1,356.0 456.5,356.9 C456.9,357.8 456.3,359.7 455.8,361.1 C455.3,362.5 454.8,364.2 453.7,365.4 C452.6,366.6 451.3,367.4 449.5,368.2 C447.7,369.0 445.4,369.5 443.1,370.3 C440.9,371.1 438.4,372.2 436.0,373.1 C433.6,374.1 431.2,375.1 428.9,376.0 C426.5,376.9 424.2,378.0 421.9,378.8 C419.5,379.6 416.6,380.9 414.8,380.9 C413.0,380.9 412.2,380.0 411.3,378.8 C410.4,377.6 409.8,375.6 409.1,373.8 C408.4,372.0 407.7,369.9 407.0,368.2 C406.3,366.5 405.9,365.0 404.9,363.9 C403.8,362.8 402.0,362.0 400.7,361.8 C399.4,361.6 397.9,362.2 397.0,362.8 C396.1,363.4 396.3,364.0 395.6,365.4 C394.9,366.8 393.5,368.9 392.7,371.0 C391.9,373.1 391.4,375.4 390.6,378.1 C389.8,380.8 388.7,384.4 387.8,387.1 C386.9,389.8 385.8,391.8 385.0,394.1 C384.2,396.5 383.2,399.2 382.8,401.2 C382.4,403.2 382.1,404.8 382.8,406.2 C383.5,407.6 385.2,408.5 387.1,409.7 C389.0,410.9 391.8,411.9 394.1,413.2 C396.5,414.5 398.8,415.9 401.2,417.5 C403.6,419.1 405.9,421.1 408.3,423.1 C410.7,425.1 413.3,427.6 415.4,429.5 C417.5,431.4 419.1,433.3 421.0,434.5 C422.9,435.7 424.8,436.4 426.7,436.6 C428.6,436.8 430.6,436.6 432.3,435.9 C434.0,435.2 435.7,433.6 436.6,432.3 C437.6,431.0 438.1,429.5 438.0,428.1 C437.9,426.7 436.8,425.1 435.9,423.8 C434.9,422.5 433.4,421.5 432.3,420.3 C431.2,419.1 429.9,418.0 429.5,416.8 C429.1,415.6 429.5,414.3 430.2,413.2 C430.9,412.1 432.2,411.3 433.7,410.4 C435.2,409.5 437.8,408.4 439.4,407.6 C440.9,406.8 441.6,406.3 443.0,405.5 C444.4,404.7 447.2,403.4 448.0,403.0 L560,403 L560,253Z" fill="#598dc0" stroke="#fff" stroke-width="2.1" stroke-linejoin="round"/>
<ellipse cx="440.5" cy="338.4" rx="4.2" ry="2.6" transform="rotate(0 440.5 338.4)" fill="#313695" stroke="#fff" stroke-width="2.1"/>
<path d="M493.8,342.2 C497,342.2 497.5,346 496.4,349 C495.6,351 494.7,352.8 493.9,354.2 C493.1,352.8 492.2,351 491.3,349 C490.1,346 490.6,342.2 493.8,342.2Z" fill="#a3d3e6" stroke="#fff" stroke-width="1.7"/>
<circle cx="494.6" cy="357.9" r="1.7" fill="#dfeaf4"/>
<path d="M505.0,267.5 C504.2,267.6 501.5,267.8 500.0,268.0 C498.5,268.2 497.4,268.4 496.0,268.8 C494.6,269.1 493.1,269.8 491.6,270.4 C490.1,271.0 488.6,271.5 487.2,272.1 C485.8,272.8 484.5,273.5 483.4,274.3 C482.3,275.1 481.2,276.0 480.6,277.0 C480.0,278.0 479.6,279.2 479.5,280.3 C479.4,281.4 479.6,282.5 480.1,283.6 C480.7,284.7 481.6,286.0 482.8,286.9 C484.0,287.8 485.7,288.3 487.2,289.1 C488.7,289.9 490.1,290.9 491.6,291.9 C493.1,292.9 494.8,294.1 496.0,295.2 C497.2,296.3 497.9,297.4 498.8,298.5 C499.7,299.6 500.1,299.8 501.4,301.6 C502.7,303.5 505.0,307.4 506.8,309.6 C508.6,311.8 510.3,313.5 512.1,315.0 C513.9,316.5 516.2,317.4 517.5,318.6 C518.8,319.9 519.6,321.9 520.0,322.5 L560,322 L560,267Z" fill="#313695" stroke="#fff" stroke-width="2.1" stroke-linejoin="round"/>
<g fill="none" stroke="#bebebe" stroke-width="1.1" stroke-linejoin="round">
<path d="M123.0,117.0 L124.4,118.9 L125.4,121.1 L124.7,122.9 L124.0,124.5 L124.1,126.3 L124.7,127.8 L125.2,129.5 L125.3,131.3 L125.5,133.0 L124.6,134.5 L124.3,136.2 L125.7,137.8 L126.1,139.6 L127.0,141.2 L126.8,142.9 L126.0,144.5 L126.7,146.3 L125.4,148.2 L123.4,149.3 L122.6,151.3 L121.0,152.7 L119.3,153.9 L117.6,155.1 L119.0,156.1 L120.9,156.1 L122.6,156.7 L124.1,158.4 L125.8,159.7 L127.2,161.4 L128.2,162.7 L129.5,163.9 L130.6,165.3 L131.0,167.2 L131.1,168.8 L132.3,170.4 L132.0,172.3 L132.1,174.1 L131.4,175.9 L130.8,178.1 L129.2,179.9 L129.1,181.6 L129.5,183.4 L128.9,185.0 L129.8,186.7 L130.4,188.4 L131.0,190.5 L131.8,192.6 L132.6,194.7 L133.2,196.9 L133.9,199.0 L134.6,201.2 L135.2,203.0 L135.8,204.9 L136.6,206.7 L137.7,208.4 L138.6,210.0 L139.1,211.9 L140.0,213.5 L141.1,215.3 L142.8,216.6 L144.0,218.3 L142.9,220.5 L142.8,222.6 L142.3,224.7 L144.3,225.2 L145.9,226.3 L147.3,227.6 L149.4,227.1 L151.3,227.1 L153.1,226.0 L155.0,226.0 L156.1,227.5 L157.7,228.5 L158.8,230.0"/>
<path d="M92.0,221.0 L93.9,221.9 L95.4,223.2 L96.9,224.4 L98.2,226.1 L100.0,227.0 L102.0,227.6 L104.1,227.4 L106.0,228.2 L107.9,228.9 L110.0,229.0 L111.6,229.9 L113.4,230.4 L115.3,230.4 L117.1,230.5 L118.9,230.9 L120.6,230.0 L122.4,229.5 L124.4,229.9 L126.2,229.7 L128.1,229.3 L129.6,229.9 L131.6,229.7 L133.4,230.1 L135.1,230.6 L136.9,230.4 L138.0,228.7 L139.6,227.7 L141.1,226.6 L142.8,225.6"/>
<path d="M51.2,228.5 L53.3,228.2 L55.4,227.8 L57.6,227.6 L58.6,225.8 L60.1,224.9 L61.5,223.8 L62.8,222.5 L64.0,220.7 L65.9,219.9 L67.6,218.6 L69.6,218.1 L71.8,218.1 L73.8,217.3 L73.8,219.6 L73.3,222.0"/>
<path d="M159.0,229.8 L160.3,228.5 L161.6,227.3 L163.0,226.2 L164.3,225.0 L165.8,224.3 L167.3,223.0 L169.2,222.7 L170.7,222.6 L172.4,222.9 L174.1,223.1 L174.8,225.2 L176.0,226.7 L176.7,228.4 L178.6,229.0 L180.6,229.6 L182.7,230.0 L184.5,229.8 L186.2,230.2 L187.8,230.8 L189.4,231.9 L190.9,233.0 L192.6,233.8 L193.2,235.7 L194.3,237.7 L195.1,239.8 L197.2,240.2 L199.1,240.8 L201.0,241.3 L202.7,242.3 L204.9,241.9 L206.9,241.5 L209.0,240.9 L210.6,240.1 L212.2,239.1 L214.1,238.8 L216.1,238.2 L218.2,237.9 L220.3,237.6 L221.3,235.8 L222.5,234.5 L223.8,233.3 L226.0,234.3 L228.1,234.6 L230.3,234.7 L232.2,235.8 L234.5,236.3 L236.4,237.6 L238.5,236.4 L240.7,236.7 L242.8,236.5 L244.4,235.1 L246.1,234.3 L247.6,233.2 L249.9,233.7 L252.0,234.1 L254.0,234.6 L255.4,233.2 L257.2,232.1 L258.8,230.7 L261.5,231.0 L264.0,230.9 L266.2,231.6 L268.0,233.1 L270.3,233.3 L271.8,232.6 L273.6,232.0 L275.1,230.9 L276.7,230.1 L278.6,229.9 L280.7,230.1 L282.8,229.3 L284.9,229.1 L286.9,227.9 L288.9,227.1 L290.7,226.2 L292.3,224.9 L293.6,223.4 L295.2,222.1 L297.3,221.2 L299.6,221.0 L301.5,219.9 L303.0,218.6 L304.7,217.9 L306.0,216.6 L308.4,217.8 L310.4,219.0 L312.3,220.4 L313.9,221.2 L315.6,221.9 L317.1,223.0 L318.9,223.5 L320.8,224.8 L322.7,225.9 L325.1,225.9 L326.8,226.3 L328.5,225.9 L330.0,224.9 L331.5,226.5 L333.0,227.9 L335.2,228.5 L336.7,227.9 L338.4,227.2 L340.1,226.5 L342.0,227.1 L343.7,228.5 L344.9,229.7 L346.0,231.1 L347.3,232.3 L349.2,233.4 L351.3,234.1 L353.2,234.9 L354.8,234.2 L356.3,233.5 L357.9,233.0 L359.6,233.7 L361.2,234.3 L363.0,234.8 L364.5,235.7 L366.3,236.9 L368.4,236.9 L370.0,238.2 L371.9,237.1 L373.3,235.8 L374.8,234.7 L376.9,235.0 L378.8,234.7 L380.6,233.8 L382.8,234.5 L385.0,234.9 L387.2,235.0 L388.7,233.9 L390.4,233.3 L392.2,233.0 L393.9,232.2 L396.0,232.9 L398.3,233.2 L400.3,234.4 L402.3,233.9 L404.1,233.3 L406.1,233.3 L407.8,231.9 L409.8,231.2 L411.7,230.2 L413.9,229.3 L415.7,228.0 L417.3,226.3 L419.3,226.4 L421.1,225.6 L423.1,225.9 L425.1,224.9 L426.9,223.7 L428.5,222.2 L429.8,221.2 L431.0,219.9 L432.5,218.9"/>
<path d="M232.8,167.2 L234.8,166.9 L237.0,166.7 L239.0,166.2 L241.0,166.8 L243.2,166.6 L245.2,167.7 L247.3,168.1 L249.3,169.1 L251.4,170.0 L253.4,171.0 L255.8,171.2 L257.8,172.1 L259.6,173.1 L261.5,173.6 L263.2,175.0 L265.3,175.9 L267.0,176.0 L268.5,174.7 L270.3,175.0 L272.3,174.2 L274.3,173.5 L276.5,173.7 L278.4,173.4 L280.3,173.9 L282.2,174.3 L284.1,174.4 L285.5,173.6 L287.1,172.7 L289.2,172.6 L291.1,171.8 L293.2,171.9 L295.2,171.8 L296.8,173.1 L298.6,173.1 L300.2,173.8 L302.1,172.6 L303.4,171.0 L304.9,169.7 L306.4,168.4 L308.5,168.3 L310.5,168.8 L312.5,169.2 L314.2,170.0 L315.7,171.5 L317.3,172.8 L319.6,172.4 L321.7,171.8 L323.8,171.3 L325.8,170.4 L327.9,170.3 L330.1,170.3 L331.6,169.3 L333.4,168.8 L334.9,167.8 L336.7,167.7 L338.3,167.1 L340.1,167.3"/>
<path d="M239.0,166.5 L238.9,168.3 L237.9,169.9 L237.6,171.7 L237.3,173.4 L236.3,174.5 L235.0,175.7 L234.4,177.6 L232.3,177.5 L230.7,178.3 L228.9,178.3 L228.6,180.2 L228.1,181.8 L227.7,183.5 L226.4,184.7 L225.0,185.8 L223.7,186.9 L222.9,189.0 L221.3,190.4 L219.9,192.0 L217.8,193.6 L217.5,195.5 L216.5,197.3 L215.6,199.0 L215.2,201.0 L215.9,202.8 L215.7,204.8 L216.4,206.6 L216.1,208.6 L216.0,210.3 L214.7,211.8 L214.1,213.6 L212.0,214.4 L210.9,216.3 L208.8,216.9 L207.4,218.6 L205.7,219.9 L204.2,221.2 L202.3,221.4 L200.6,221.4 L198.9,221.8 L198.2,224.2 L198.1,226.4 L198.0,228.6 L195.9,229.7 L193.9,230.9 L192.9,233.6"/>
<path d="M247.8,149.0 L248.4,147.0 L248.2,144.9 L249.2,143.0 L249.8,141.1 L250.4,139.2 L250.8,137.3 L251.5,135.4 L251.9,133.5 L251.6,131.6 L250.7,129.8 L250.9,127.8 L250.3,126.0 L249.5,124.1 L249.0,122.0 L248.8,119.9 L247.9,118.0 L247.9,115.9 L247.5,113.9 L246.8,111.9 L245.6,110.1"/>
<path d="M245.2,201.0 L247.0,199.9 L248.5,198.4 L250.4,197.4 L252.1,196.5 L254.0,196.8 L255.9,196.2 L257.8,196.1 L259.8,195.3 L261.9,195.0 L264.0,194.5 L264.6,196.8 L264.6,199.0 L265.3,201.0 L266.1,202.9 L267.7,204.4 L269.2,205.8 L269.2,207.9 L269.6,209.8 L270.3,211.6 L270.2,213.5 L270.4,215.5 L269.7,217.3 L269.3,219.1 L268.8,221.0 L267.1,221.4 L265.6,222.6 L264.2,223.9 L262.1,223.8 L260.3,224.4 L258.3,224.2 L256.4,224.4 L254.3,224.3 L252.4,222.8 L250.2,222.4 L249.1,220.7 L248.5,218.9 L247.7,217.3 L246.0,217.0 L244.4,216.6 L242.7,216.1 L242.3,214.3 L241.3,212.8 L240.9,211.0 L242.2,209.2 L244.0,207.8 L245.1,205.8 L245.5,203.5 L244.8,201.0"/>
<path d="M373.0,120.0 L372.7,121.8 L371.9,123.4 L371.5,125.1 L371.8,127.1 L372.0,129.2 L372.4,131.3 L373.9,132.8 L375.1,134.5 L376.5,136.1 L375.5,138.3 L375.6,140.5 L374.6,142.4 L374.1,144.1 L372.8,145.3 L371.3,146.3 L369.6,147.6 L367.8,148.5 L366.0,149.7 L364.7,150.9 L363.2,152.0 L361.5,152.6 L360.0,153.8 L358.6,154.9 L357.0,155.8 L355.6,157.0 L353.6,157.3 L351.8,158.8 L349.7,159.5 L347.5,159.9 L345.8,160.7 L344.1,161.6 L342.4,162.4 L341.4,163.9 L340.4,165.3 L339.6,166.8"/>
<path d="M340.0,167.0 L341.9,168.5 L343.5,170.3 L345.9,170.0 L348.0,170.6 L349.9,171.7 L351.4,169.7 L352.2,167.7 L353.6,166.2 L356.2,166.6 L358.8,166.2 L360.3,167.2 L361.0,169.0 L362.8,169.7 L360.5,171.1 L358.7,172.4 L357.1,173.5 L355.2,174.1 L353.9,175.8 L353.2,177.4 L353.3,179.4 L352.0,181.2 L351.5,183.1 L350.0,184.6 L348.5,186.1 L347.8,188.0 L347.9,190.1 L348.5,191.5 L349.8,192.7 L351.4,193.6 L353.3,194.0 L355.4,193.5 L357.5,193.4 L359.6,193.7 L361.7,194.1 L363.7,194.8 L365.4,196.0 L366.7,197.9 L366.1,199.5 L366.3,201.7 L365.6,203.8 L364.9,205.6 L363.4,207.0 L362.4,208.7 L362.0,210.8 L362.1,213.0 L361.1,215.0 L361.2,216.8 L360.1,218.3 L360.0,220.0 L359.5,221.8 L357.9,223.1 L357.1,224.8 L357.2,226.7 L356.2,228.2 L356.5,230.1 L357.0,231.5 L357.8,233.0"/>
<path d="M435.3,232.1 L436.8,231.2 L438.3,230.3 L439.8,229.4 L442.2,229.9 L444.3,229.4 L446.4,229.4 L447.9,230.5 L449.6,231.6 L451.0,233.1 L452.0,234.4 L452.8,235.9 L455.3,236.4 L457.6,237.0 L460.1,236.2 L462.4,235.4 L463.1,233.7 L464.5,232.1 L463.1,230.8 L462.6,229.1 L460.1,228.6 L457.6,228.6"/>
<path d="M236.5,237.2 L237.0,239.2 L238.3,240.9 L238.7,242.9 L238.4,245.0 L237.6,247.0 L237.3,249.0 L237.5,250.8 L238.7,252.4 L238.7,254.2 L239.5,255.9 L240.5,257.5 L241.5,259.3 L243.1,260.7 L244.6,262.0 L246.0,263.6 L247.7,264.8 L249.2,266.2 L250.2,268.1 L251.3,269.9 L253.5,268.8 L255.7,269.2 L257.8,268.7 L259.8,268.3 L261.9,268.2 L264.0,269.0 L266.5,268.3 L269.0,268.1 L270.2,270.0 L270.4,272.0 L271.4,273.5 L273.5,274.6 L275.6,275.4 L277.7,276.0 L279.9,276.0 L281.9,275.0 L284.0,274.8 L284.9,273.0 L285.4,271.0 L287.1,270.0 L288.6,268.6 L290.4,267.4 L291.7,266.0 L293.5,265.3 L295.2,264.6 L296.2,263.2 L297.6,262.1 L298.7,260.7 L301.0,260.4 L303.2,260.3 L305.2,259.6 L307.4,260.0 L309.5,260.3 L311.5,260.8 L313.7,261.0 L315.9,260.3 L318.0,259.9 L319.7,259.0 L321.6,259.1 L323.2,258.1 L325.0,257.9 L326.9,258.1 L328.5,257.4 L330.3,256.9 L332.0,256.7 L334.1,256.0 L336.1,255.1 L337.9,253.7 L340.5,253.9 L342.8,254.5"/>
<path d="M340.0,226.2 L340.5,228.5 L339.8,230.8 L340.4,233.0 L340.7,235.2 L341.1,237.4 L341.6,239.7 L341.7,241.5 L341.4,243.4 L341.6,245.4 L341.0,247.2 L341.5,249.0 L341.5,251.0 L342.3,252.8 L342.6,254.8 L343.6,256.6 L344.6,258.4 L344.6,260.5 L345.4,262.4 L346.5,264.1 L347.5,265.9 L347.8,267.9 L348.5,269.8 L347.9,271.7 L347.7,273.6 L347.5,275.5 L349.4,275.9 L351.3,276.0 L353.3,276.0 L354.9,277.2 L355.8,279.1 L357.3,280.2 L359.0,280.9 L360.0,283.2 L361.7,284.9 L363.8,286.0 L365.3,288.0 L366.8,289.2 L368.0,290.9 L369.1,292.9 L370.6,294.9 L372.7,296.5 L373.5,298.4 L374.4,300.4 L375.9,302.0 L377.6,303.4 L379.3,304.7 L381.5,305.5 L381.6,307.5 L382.3,309.1 L383.6,310.4 L385.5,310.7 L387.7,310.5 L390.0,310.3 L391.1,308.8 L392.4,307.1 L393.0,305.0 L393.6,302.6 L395.0,300.5 L396.3,299.2 L397.5,297.9 L398.4,298.8 L400.3,299.4 L401.6,300.9 L403.5,301.3 L405.4,299.7 L407.5,298.7 L409.4,297.9 L411.4,297.8 L412.3,299.4 L412.4,301.6 L413.8,303.3 L414.1,305.4 L415.8,305.0 L417.5,304.2 L419.2,303.5 L421.3,303.7 L422.7,305.1 L424.9,305.8 L426.3,307.7 L427.9,309.3 L430.2,310.4 L432.3,311.4 L434.6,311.4 L436.6,312.3 L437.1,314.0 L437.0,316.1 L437.9,318.2 L438.5,320.4 L439.5,321.9 L440.8,323.0 L441.5,324.6 L441.8,326.7 L441.3,328.7 L439.9,330.3 L439.7,332.3 L441.7,332.8 L443.8,333.1 L446.2,332.4 L448.7,332.4 L450.7,332.5 L452.5,331.7 L454.4,331.4 L455.9,330.6 L457.6,329.9 L459.5,329.8 L459.2,327.3 L459.1,325.1 L458.3,323.5 L458.1,321.8 L456.9,320.4 L457.2,318.1 L457.6,316.0 L460.4,315.9 L462.9,316.5 L464.8,316.0 L466.7,316.4 L468.7,316.3 L470.4,316.6 L472.1,317.4 L473.8,318.9 L475.6,320.3 L476.8,322.0 L478.2,323.4 L478.2,325.3 L478.8,327.4 L479.3,329.5 L479.6,331.6 L479.1,333.4 L479.9,335.1 L480.2,336.8 L479.7,338.6 L480.7,340.7 L480.6,343.0 L481.4,345.0 L480.3,347.9"/>
<path d="M284.0,274.8 L283.7,276.9 L283.1,278.9 L282.4,280.9 L284.3,282.5 L285.5,284.2 L286.9,285.7 L287.3,287.6 L287.8,289.2 L288.1,290.9 L288.0,292.9 L287.9,294.8 L288.5,296.7 L289.1,298.5 L288.5,300.4 L287.6,302.2 L287.3,304.2 L286.9,306.1 L285.9,307.8 L285.8,309.7 L285.9,311.7 L285.7,313.6 L286.1,315.1 L285.6,316.9 L286.9,318.4 L284.6,318.7 L282.7,318.7 L281.0,319.9 L279.0,319.9 L276.9,320.2 L274.8,320.2 L272.8,321.3 L270.9,321.6 L269.0,321.9 L267.2,322.4 L265.2,322.1 L263.2,323.2 L261.5,324.8 L260.6,326.9 L258.8,328.4 L256.8,329.1 L254.8,330.0 L252.8,331.2 L250.5,331.7 L248.5,332.9 L246.5,333.9 L248.3,335.7 L250.4,337.0 L252.3,337.6 L254.4,338.4 L256.5,338.7 L258.5,339.6 L260.1,341.3 L259.6,343.0 L260.2,345.1 L259.7,347.2 L259.3,349.2 L257.9,351.0 L256.0,351.9 L257.1,354.3 L258.3,356.3 L258.9,358.7 L260.5,360.5 L260.2,362.5 L259.8,364.4 L259.2,366.2 L258.9,368.1 L259.4,370.0 L260.1,371.8 L260.0,373.8 L260.6,375.6 L260.3,377.5 L261.5,379.3 L262.2,381.2 L262.5,383.3 L262.5,385.1 L262.9,386.9 L263.5,388.8 L263.9,390.8 L264.9,392.5 L265.9,394.3 L266.1,396.1 L266.2,397.9 L266.7,399.5"/>
<path d="M390.0,310.6 L390.5,312.4 L390.5,314.3 L391.2,316.1 L391.2,318.0 L391.0,319.8 L390.7,321.6 L390.1,323.3 L389.9,325.1 L389.6,326.7 L389.1,328.3 L389.7,330.0 L387.7,331.7 L386.7,333.7 L384.4,334.2 L382.5,335.2 L380.8,336.7 L378.9,337.0 L377.3,338.1 L376.0,339.6 L374.2,340.2 L372.4,340.9 L370.6,341.6 L372.2,343.0 L373.4,344.2 L374.2,345.8 L374.7,347.8 L376.2,349.7 L377.3,350.9 L377.9,352.8 L379.4,353.9 L378.7,356.2 L377.5,358.2 L377.0,359.8 L376.4,361.5 L375.5,363.1 L374.0,363.7 L372.3,364.4 L370.7,365.3 L368.7,366.2 L366.8,367.5 L364.7,366.8 L362.8,367.0 L360.9,367.6 L359.0,367.6 L357.2,368.4 L355.3,368.2 L353.2,367.7 L351.0,367.7 L350.6,365.4 L350.6,363.1 L349.5,361.6 L349.4,359.7 L348.6,358.1"/>
<path d="M351.0,367.5 L349.9,369.0 L349.7,370.8 L348.8,372.4 L347.7,373.6 L347.3,375.4 L346.1,376.7 L344.2,378.0 L342.2,379.1 L341.0,381.3 L339.3,382.6 L340.5,384.2 L341.5,386.6 L342.5,388.7 L344.2,390.4 L345.9,392.0 L348.2,392.7 L350.1,394.2 L352.2,395.3 L354.2,396.4 L354.9,398.7 L356.0,400.3 L357.0,402.0 L357.4,404.0 L355.9,405.8 L353.6,406.7 L352.0,408.3 L350.5,410.0 L349.5,411.9 L348.2,413.9 L346.8,414.9 L346.0,416.5 L345.0,417.8 L343.4,419.3 L342.1,421.3 L340.9,423.2 L339.4,425.1 L338.9,427.2 L337.8,428.9"/>
</g>
<g fill="none" stroke="#0000ff" stroke-width="1.1" stroke-linejoin="round">
<path d="M33.6,142.3 L35.0,143.4 L36.3,144.6 L37.3,146.1 L38.9,146.5 L40.2,147.5 L41.6,148.1 L43.1,148.6 L44.2,149.8 L45.6,150.5 L46.6,151.6 L47.9,152.4 L48.7,153.7 L49.2,155.0 L49.7,156.3 L50.8,157.3 L50.8,159.0 L50.5,160.5 L50.3,162.1 L51.0,163.8 L51.6,165.4 L51.7,167.1 L52.8,168.6 L51.7,169.9 L51.5,171.4 L51.0,172.8 L50.4,174.1 L49.7,175.4 L48.5,176.6 L47.9,178.3 L46.8,179.5 L45.8,180.9 L45.0,182.4 L44.0,183.8 L42.5,184.4 L41.0,184.6 L39.5,184.8 L37.9,184.7 L36.4,185.1 L34.9,185.7 L33.4,186.0 L31.9,186.6 L30.4,187.2 L28.8,187.3 L27.4,188.1 L26.1,189.1 L24.6,189.6 L23.2,190.4 L21.7,191.5 L20.6,192.8 L19.5,194.3"/>
<path d="M90.4,219.4 L91.8,218.7 L93.3,218.7 L94.6,217.7 L96.1,217.5 L97.4,216.6 L98.8,216.2 L100.3,215.8 L101.3,214.5 L102.7,213.9 L103.9,213.0 L105.1,212.1 L106.4,211.3 L107.5,210.1 L109.1,209.4 L110.0,208.0 L111.3,207.0 L112.5,205.9 L113.9,205.0 L114.9,203.9 L116.1,202.9 L116.7,201.5 L117.5,200.3 L118.5,199.2 L119.9,198.3 L121.0,197.0 L122.7,196.5 L124.1,195.4 L125.7,194.8 L127.1,193.7 L128.4,192.7 L129.4,191.5 L130.6,190.4 L131.8,189.3 L132.7,188.0 L133.6,186.6 L134.9,185.4 L136.6,184.8 L137.8,183.4 L138.9,182.1 L140.6,181.3 L141.9,180.6 L143.5,180.1 L145.0,179.7 L146.3,178.7 L147.9,178.2 L149.3,177.3 L150.1,175.8 L151.6,174.9 L152.4,173.4 L153.4,172.1 L154.0,170.5 L154.8,169.0 L156.1,169.1 L157.6,168.9 L159.2,168.7 L160.3,167.5 L161.7,166.4 L163.0,165.1 L164.2,166.2 L164.6,167.8 L165.8,168.9 L166.9,167.7 L167.6,166.2 L168.6,165.0 L169.2,163.9 L170.1,163.1 L171.1,164.4 L171.8,165.7 L172.6,167.0 L172.2,168.4 L172.0,169.8 L172.4,171.2 L172.2,172.6"/>
<path d="M128.8,280.0 L129.1,278.5 L129.4,277.0 L129.6,275.4 L130.4,274.1 L130.2,272.4 L130.3,271.0 L130.4,269.6 L129.7,268.2 L129.9,266.7 L129.7,265.2 L129.2,263.8 L128.4,262.6 L127.6,261.2 L126.5,260.0 L125.6,258.7 L124.3,257.6 L123.4,256.4 L122.3,255.2 L122.0,253.6 L121.7,252.0 L121.0,250.7 L120.5,249.2 L119.7,247.9 L119.4,246.4 L118.5,245.1 L119.0,243.5 L119.7,242.1 L120.2,240.7 L120.4,239.2 L120.6,237.6 L121.1,236.2 L122.1,235.0 L123.2,233.9 L124.5,233.0 L125.3,231.6 L126.7,230.8 L127.7,229.7 L128.6,228.4 L130.0,227.8 L131.3,227.1 L132.4,226.0 L133.8,225.5 L135.1,224.6 L135.8,223.1 L137.1,222.2 L138.0,220.9 L139.3,220.0 L140.6,219.1 L141.5,217.8 L142.7,216.7 L144.0,215.8 L145.4,215.1 L146.4,213.9 L147.7,213.0 L149.2,212.1 L150.7,211.1 L151.8,209.7 L153.1,208.6 L154.6,207.6 L154.8,206.1 L155.7,204.9 L156.0,203.4 L156.9,202.3 L157.7,201.0 L158.3,199.7 L159.7,199.0 L160.8,198.1 L161.7,197.0 L162.9,196.1 L162.9,194.5 L162.4,192.8 L161.3,191.3 L161.2,189.6 L161.9,188.3 L161.9,186.7 L162.6,185.4 L162.7,183.9 L164.1,182.8 L165.4,181.8 L166.5,180.6 L167.7,179.6 L168.5,178.1 L169.5,176.8 L170.6,175.6 L171.3,174.1 L172.1,172.6 L172.4,171.0 L173.3,169.5 L173.4,167.9 L173.4,166.2 L175.4,166.5 L177.1,166.1 L178.8,166.2 L179.0,167.8 L178.8,169.4 L178.9,170.9 L179.0,172.5 L177.1,172.8 L175.5,173.6 L173.7,173.6"/>
<path d="M173.8,173.8 L175.5,173.7 L177.2,173.5 L179.0,173.6 L180.7,174.0 L182.3,175.0 L183.9,175.7 L185.5,175.2 L186.9,174.5 L188.5,174.3 L190.0,173.8 L191.5,173.3 L193.3,173.2 L194.9,172.7 L196.4,171.4 L198.1,172.6 L199.8,173.0 L201.5,173.4 L202.6,172.1 L204.1,171.1 L205.7,171.4 L207.3,172.0 L209.0,172.4 L211.0,172.6 L212.7,173.7 L213.4,172.0 L213.7,170.4 L213.8,168.8 L213.7,167.2 L215.6,166.5 L217.3,166.2 L219.1,166.3 L220.5,165.2 L222.1,164.7 L223.8,164.4 L225.2,163.4 L227.1,163.8 L229.0,164.0 L230.4,164.9 L231.5,166.2 L232.6,167.4 L232.3,165.7 L232.2,164.1 L232.1,162.6 L231.7,161.0 L231.6,159.4 L231.3,157.8 L230.8,156.3 L230.3,154.7 L231.7,153.7 L232.6,152.1 L234.0,151.0 L235.5,150.7 L237.0,150.6 L238.5,150.0 L240.0,150.2 L241.5,149.5 L243.0,149.3 L244.7,149.6 L246.2,149.5 L247.7,149.0 L250.0,148.7 L249.8,147.2 L249.8,145.6 L250.1,144.1 L249.8,142.5 L250.1,140.9 L250.6,139.4 L250.7,137.8 L251.4,136.3 L252.4,135.1 L253.3,133.9 L254.1,132.5 L254.9,131.2 L256.2,130.0 L257.3,128.5 L258.9,127.6 L259.9,126.2 L258.3,125.5 L256.5,124.8 L255.0,123.8 L253.5,123.2 L252.0,122.8 L250.6,122.0 L249.0,121.6 L247.4,121.4 L248.1,119.7 L249.0,118.2 L249.4,116.6 L250.1,115.0 L248.8,113.9 L248.0,112.5 L247.0,111.3 L245.9,110.0 L245.0,108.8 L244.0,107.5 L243.0,106.2 L242.0,105.0 L240.8,103.9 L240.0,102.5 L239.5,100.9 L238.4,99.5"/>
<path d="M247.8,149.0 L249.0,149.9 L250.2,150.8 L251.3,151.9 L252.8,152.6 L254.0,153.5 L255.2,154.4 L256.6,155.0 L257.7,156.0 L258.9,156.9 L260.1,157.8 L261.7,158.3 L262.5,159.7 L263.6,160.8 L264.1,162.4 L265.1,163.6 L266.4,165.0 L266.6,167.0 L267.5,168.6 L268.9,169.8 L270.2,171.1 L271.7,172.1 L273.0,173.3 L274.6,174.1 L276.6,174.5 L278.0,174.5 L279.5,174.6 L281.0,174.4 L282.5,174.7 L284.0,174.7 L285.4,175.5 L287.0,175.8 L288.5,176.3 L290.0,176.7 L291.5,177.4 L293.0,177.5 L294.5,177.6 L295.9,178.3 L297.4,178.6 L299.0,178.7 L299.9,179.8 L301.1,180.9 L302.1,182.1 L302.3,184.0 L302.6,185.7 L302.3,187.5 L302.7,189.2 L302.5,191.0 L302.6,192.5 L301.9,193.9 L301.8,195.5 L302.1,197.1 L301.7,198.5 L300.3,199.6 L299.6,201.0 L298.4,202.0 L297.8,203.5 L297.5,205.1 L296.7,206.5 L296.1,207.9 L295.9,209.6 L295.5,211.1 L295.1,212.5 L294.4,213.9 L294.3,215.5 L294.5,217.0 L294.2,218.5 L294.5,220.0 L294.8,221.4 L294.5,223.0 L295.2,224.5 L295.2,226.0 L294.7,227.6 L294.3,229.2 L293.4,230.6 L293.2,232.3 L292.1,233.4 L291.6,234.9 L290.6,236.0 L290.0,237.4 L289.1,238.6 L287.8,239.6 L287.0,240.9 L286.3,242.3 L285.0,243.3 L284.7,244.9 L283.8,246.0 L282.8,247.1 L282.2,248.4 L281.7,249.9 L280.0,250.5 L279.1,251.9 L277.9,252.9 L276.4,253.6 L275.3,254.8 L274.1,255.6 L272.9,256.5 L271.6,257.2 L270.2,257.7 L269.1,258.7 L267.7,259.4 L266.6,260.4 L265.3,261.3 L263.8,262.0 L263.4,264.1 L262.7,266.0"/>
<path d="M267.8,168.5 L268.4,170.0 L268.9,171.5 L269.6,173.0 L270.6,174.4 L271.3,175.9 L270.6,177.6 L270.2,179.2 L269.3,180.6 L268.9,182.2 L268.2,183.5 L267.5,184.7 L266.7,185.9 L266.2,187.4 L265.3,188.5 L264.7,190.1 L263.5,191.4 L263.3,193.1 L262.1,194.4 L261.8,196.1 L260.6,197.4 L260.1,199.1 L259.3,200.5 L258.3,201.9 L258.1,203.7 L257.3,205.1 L256.0,206.4 L255.5,208.0 L255.0,209.6 L253.7,210.8 L252.7,212.0 L252.0,213.7 L250.7,214.8 L249.8,216.2 L248.6,217.3 L248.0,218.7 L247.9,220.3 L247.2,221.7 L247.2,223.3 L246.7,224.8 L245.3,225.9 L244.6,227.3 L243.5,228.5 L242.4,229.7 L241.5,231.0 L240.3,232.3 L239.2,233.7 L237.6,234.6 L236.3,235.8 L235.0,237.0 L233.9,238.4 L232.8,239.8 L231.6,241.1 L230.2,241.7 L228.9,242.6 L227.9,243.7 L226.6,244.5 L225.3,245.2 L224.0,246.0 L222.6,246.8 L221.5,248.0 L220.5,249.3 L218.9,249.8 L217.8,251.0 L216.9,252.2 L216.2,253.6 L215.2,254.8 L214.4,256.0 L213.3,257.1 L214.2,258.7 L214.3,260.4 L215.0,261.9 L215.1,263.5 L216.5,264.5 L217.4,265.9 L218.3,267.2 L219.2,268.6 L220.5,269.6 L221.1,271.0 L222.1,272.1 L222.9,273.4"/>
<path d="M212.8,173.5 L212.7,175.1 L212.2,176.6 L212.1,178.2 L211.8,179.7 L212.7,181.1 L213.3,182.6 L213.9,184.0 L214.3,185.5 L214.6,187.1 L215.5,188.4 L215.8,190.0 L216.5,191.3 L217.0,192.8 L217.5,194.3 L217.7,195.9 L218.4,197.3 L218.3,198.9 L217.6,200.3 L217.2,201.8 L216.3,203.2 L215.8,204.7 L214.7,205.9 L213.5,207.1 L212.4,208.4 L211.2,209.5 L210.1,210.9 L208.9,212.0 L207.2,212.5 L205.9,213.5 L204.3,214.2 L202.9,215.1 L201.5,216.0 L200.3,217.1 L199.0,218.1 L197.8,219.2 L196.7,220.4 L195.1,221.0 L193.9,222.1 L192.6,223.3 L191.7,224.7 L190.7,226.0 L189.5,227.1 L188.7,228.7 L188.0,229.9 L187.7,231.4 L187.5,232.9 L187.0,234.4 L186.4,235.8 L186.2,237.3 L185.4,238.8 L184.6,240.2 L184.1,241.8 L183.6,243.4 L182.8,244.8 L181.9,246.1 L180.9,247.4 L179.9,248.6 L178.8,249.8 L178.0,251.2 L177.0,252.8 L176.2,254.6 L175.0,255.3 L173.5,255.6 L171.9,256.0 L170.6,257.1 L169.1,257.5 L167.4,257.1 L165.7,257.1 L164.1,257.3 L162.5,257.7 L161.0,258.1 L159.4,258.3 L157.9,258.7 L156.4,259.3 L155.1,260.2 L153.4,260.5 L152.0,261.6 L150.4,262.1 L149.1,263.2 L147.4,263.5 L145.8,264.5 L144.1,265.3 L142.6,266.4"/>
<path d="M176.5,254.8 L177.9,255.4 L178.9,256.5 L180.2,257.3 L181.3,258.3 L182.8,258.8 L184.1,259.6 L185.4,260.6 L187.0,261.3 L188.6,261.9 L189.9,262.9 L191.5,263.4 L192.6,264.6 L194.2,265.2 L195.4,266.2 L196.3,267.5 L195.8,268.6 L195.1,269.8 L194.1,270.9 L193.4,272.2 L193.0,273.6 L191.8,274.9 L190.8,276.2 L190.1,277.8 L188.9,278.9"/>
<path d="M224.5,323.0 L226.2,323.4 L227.1,321.1 L229.0,321.9 L230.0,320.4 L232.0,321.6 L233.2,319.4 L235.1,320.8 L236.6,320.1 L238.1,319.6 L239.5,319.1 L240.0,317.1 L241.3,316.5 L243.0,316.4 L243.7,314.7 L245.0,313.7 L246.2,312.8 L248.2,312.8 L249.4,311.9 L250.6,310.9 L251.2,309.0 L253.3,309.2 L254.0,307.3 L254.9,305.6 L256.4,304.7 L257.6,303.4 L259.1,302.2 L260.9,302.6 L262.4,301.7 L264.0,301.6 L265.2,302.9 L266.9,303.0 L268.6,303.2 L269.7,304.7 L271.7,304.5 L272.8,303.0 L274.6,303.4 L275.4,301.2 L276.4,300.3 L277.7,299.1 L280.0,298.9 L280.9,297.3 L282.2,296.1 L282.9,294.2 L284.8,293.6 L286.7,293.3 L287.5,291.0 L289.5,291.6 L290.8,292.2 L291.7,293.5 L293.5,293.8 L295.0,292.8 L296.6,292.0 L298.3,291.7 L300.0,291.8 L300.8,293.9 L302.7,293.5 L304.2,294.0 L305.5,294.4 L306.7,295.6 L308.3,294.9 L309.5,296.3 L310.9,294.5 L312.4,293.9 L313.5,292.6 L315.7,293.3 L316.8,292.1 L317.6,290.7 L318.3,289.2 L320.0,288.9 L321.4,289.3 L322.2,290.7 L323.4,291.5 L325.5,290.6 L326.8,289.1 L328.2,288.0 L330.3,288.9 L331.8,288.2 L332.5,286.1 L334.2,286.0 L335.6,286.2 L336.8,287.4 L338.6,285.9 L340.0,286.1 L341.6,286.6 L342.7,285.2 L344.0,284.1 L345.8,283.7 L347.0,282.9 L348.4,282.6 L349.5,281.3 L350.8,280.5 L352.5,280.3 L354.0,280.9 L355.5,281.4 L357.0,280.9 L358.3,280.1 L359.9,279.9 L361.4,279.4 L362.7,278.5 L363.9,277.5 L365.7,278.0 L367.1,277.4 L368.5,277.1 L370.0,276.7 L370.8,274.5 L372.7,275.3 L373.9,274.2 L375.4,274.1 L376.8,274.1 L378.1,273.1 L379.5,273.1 L381.5,273.8 L382.3,271.9 L384.2,272.2 L385.5,271.1 L386.5,269.5 L387.9,268.6 L389.6,268.1 L391.1,267.3 L392.2,266.0 L393.4,264.8 L394.9,264.3 L396.9,264.8 L398.2,263.9 L399.1,262.1 L401.2,262.6 L402.4,261.4 L403.6,260.3 L405.5,260.6 L406.2,258.5 L407.5,257.8 L409.0,257.6 L410.6,257.7 L411.7,256.7 L413.0,257.2 L413.9,258.6 L415.6,258.3 L417.0,258.4 L417.5,256.4 L419.5,257.1 L419.6,254.4 L421.4,253.6 L422.6,252.6 L423.3,251.1 L424.5,250.3 L425.9,249.6 L427.5,249.3 L428.6,247.9 L429.2,246.4 L430.7,245.4 L431.6,243.9 L431.9,242.1 L433.0,240.8 L433.3,239.1 L433.2,237.3 L434.7,235.9 L435.1,234.4 L434.4,232.8 L435.6,231.4 L436.1,229.9 L435.6,228.3 L434.9,226.9 L434.4,225.5 L433.8,224.2 L433.9,222.7 L435.0,220.8 L432.8,219.6 L434.2,217.7"/>
<path d="M358.9,248.7 L360.3,248.2 L361.7,247.9 L363.1,247.5 L364.5,247.2 L365.9,246.7 L367.4,246.4 L368.7,245.6 L370.2,245.4 L371.1,244.1 L372.4,243.3 L373.5,242.4 L374.5,241.3 L375.9,240.7 L377.3,239.7 L378.9,239.3 L380.5,238.6 L381.8,237.4 L383.5,237.0 L385.0,236.4 L386.4,235.8 L387.8,234.8 L389.4,234.5 L390.9,234.1 L392.3,233.1 L393.7,232.4 L395.1,231.7 L396.5,230.9 L397.9,230.3 L398.8,229.1 L400.0,228.2 L401.2,227.4 L402.5,226.6 L403.4,225.3 L404.4,224.3 L406.0,223.8 L407.1,222.8 L408.5,223.7 L410.1,224.5 L411.8,225.3 L413.1,226.2 L414.3,227.3 L415.5,228.3 L416.9,228.0 L418.3,228.4 L419.7,228.5 L421.1,228.0 L422.6,227.8 L423.9,226.9 L425.5,226.5 L426.8,225.5 L428.1,224.5 L429.1,223.1 L430.4,222.0 L431.5,220.7 L432.2,219.1 L433.2,217.8"/>
<path d="M323.8,290.8 L323.9,292.3 L323.6,293.8 L323.4,295.4 L324.9,296.7 L324.2,298.4 L324.5,299.9 L324.8,301.3 L326.1,302.7 L326.4,304.2 L325.9,305.8 L324.8,307.2 L325.4,309.0 L324.6,310.4 L324.5,312.0 L323.1,313.2 L323.4,315.1 L324.9,316.2 L324.3,318.0 L326.5,318.8 L325.5,320.7 L325.7,322.3 L327.5,323.4 L326.7,325.2 L327.4,326.6 L327.1,328.3 L329.0,329.3 L328.8,330.9 L328.7,332.5 L329.5,333.9 L330.4,335.3 L331.2,336.7 L328.7,336.8 L327.9,338.3 L326.1,338.0 L325.4,340.4 L323.1,340.2 L321.6,341.2 L320.2,341.4 L319.4,343.5 L319.0,344.3 L319.3,346.0 L317.6,347.3 L318.6,348.9 L317.6,350.6 L318.9,352.1"/>
<path d="M326.6,338.9 L328.0,339.7 L328.1,341.5 L329.9,341.2 L331.3,341.2 L332.6,342.0 L333.8,342.7 L335.0,343.4 L336.2,344.0 L337.6,344.4 L338.8,345.1 L339.5,346.6 L341.1,347.0 L341.8,348.4 L342.8,349.5 L344.2,350.7 L345.6,351.9 L347.5,351.9 L348.6,352.9 L349.6,353.8 L351.0,353.5 L352.4,352.7 L353.7,354.1 L355.0,355.0 L356.5,355.4 L358.2,355.3 L359.3,356.3 L360.8,356.8 L360.8,359.3 L362.9,359.0 L363.5,360.8 L364.9,361.4 L366.0,362.4 L367.3,363.2 L368.0,364.5 L369.3,364.9 L368.5,366.4 L367.7,368.0 L365.9,368.9 L364.2,369.2 L363.9,371.3 L362.1,371.4 L361.2,372.7 L361.0,374.5 L360.0,375.7 L358.9,376.9 L359.2,378.6 L359.0,380.2 L359.1,381.9 L360.1,383.4 L359.1,385.3 L360.0,386.7 L360.8,388.0 L361.9,389.3 L362.5,390.6 L363.7,391.4 L365.2,391.6 L366.8,392.2 L367.6,393.5 L368.5,394.7 L369.7,395.3 L370.2,397.1 L371.4,397.8 L373.1,398.4 L373.3,400.6 L374.9,401.4 L376.2,402.6 L377.5,403.6 L379.1,404.3 L380.4,404.8 L381.1,406.3 L383.2,405.6 L384.9,407.3"/>
<path d="M420.2,254.7 L420.1,256.2 L420.1,257.6 L420.8,259.0 L421.1,260.4 L421.8,261.7 L421.1,263.5 L422.9,264.5 L423.7,265.8 L422.5,267.8 L421.5,269.4 L420.5,270.9 L419.1,271.8 L418.0,272.7 L416.6,272.9 L417.7,273.8 L418.2,275.6 L419.7,276.4 L420.9,277.4 L421.7,278.8 L421.5,280.7 L422.1,282.0 L420.6,283.0 L419.5,284.0 L419.1,285.7 L420.2,287.2 L419.3,289.2 L418.2,290.2 L417.5,292.1 L416.0,293.2 L415.1,295.1 L412.8,295.6 L411.9,297.0 L411.1,298.2 L409.9,299.2 L411.8,300.7 L411.9,302.2 L412.3,303.5 L412.9,304.7 L414.3,305.3 L413.4,307.1 L411.6,307.6 L411.2,309.5 L409.3,309.8 L409.4,311.9 L407.8,312.6 L406.0,312.9 L404.3,313.9 L402.8,314.2 L401.4,315.1 L400.1,316.2 L397.9,316.0 L396.1,316.7 L395.0,318.9 L395.5,321.2 L396.5,322.0 L396.6,323.7 L398.1,324.4 L398.5,326.4 L400.3,327.0 L401.5,328.0 L402.2,329.4 L403.0,330.8 L403.6,332.4 L405.2,333.2 L406.6,334.1 L407.3,335.8 L409.3,336.1 L410.3,337.5 L410.5,339.3 L411.4,340.6 L413.3,341.0 L414.0,342.6 L413.6,344.2 L413.8,345.7 L415.9,345.8 L416.5,347.4 L417.9,348.0 L419.3,348.1 L420.7,348.8 L422.0,349.6 L423.3,350.4 L425.0,350.5 L426.0,352.1 L427.2,353.3 L428.2,354.0 L430.1,354.5 L430.2,356.4 L431.1,357.7 L433.1,358.5 L433.4,360.3 L434.6,360.5 L436.1,360.9 L437.5,360.7 L438.8,359.8 L440.2,360.1 L441.5,361.0 L443.1,359.7 L444.5,360.4 L445.9,359.5 L447.4,360.9 L448.8,360.7 L450.2,359.8 L451.3,359.2 L453.0,359.0 L454.6,358.8 L455.5,356.9 L457.0,356.6 L458.6,356.2 L459.8,355.0 L461.8,355.4 L463.1,354.4 L464.7,354.1 L465.9,352.6 L467.4,351.7 L468.4,350.1 L470.0,349.8 L471.3,349.0 L472.8,348.4 L473.8,346.9 L475.9,347.6 L476.7,345.7"/>
<path d="M433.2,360.4 L431.6,361.1 L431.0,362.5 L430.0,363.6 L428.7,364.1 L428.2,366.1 L426.5,366.4 L424.9,366.8 L423.5,367.5 L422.1,368.8 L420.8,370.2 L419.1,370.5 L417.2,370.1 L416.5,372.4 L415.0,372.7 L413.0,372.3 L412.0,373.9 L411.3,375.0 L410.1,375.6 L409.9,377.1 L411.6,378.0 L412.1,379.4 L411.4,380.8 L410.7,382.2 L410.1,383.0 L409.3,384.5 L407.6,384.4 L407.9,386.5 L407.0,388.1 L406.2,389.6 L405.9,390.9 L407.3,392.0 L407.3,393.7 L408.9,394.6 L408.7,396.8 L408.5,398.6 L406.5,400.0 L405.5,401.6 L404.6,403.1 L402.8,403.8 L400.7,404.1 L399.1,402.6 L400.4,403.5 L401.7,404.2"/>
<path d="M325.0,415.5 L326.8,415.5 L328.0,417.1 L329.6,417.6 L331.3,418.0 L332.8,418.5 L333.4,420.3 L334.6,421.3 L336.2,421.8 L337.5,423.0 L339.1,423.9 L340.7,424.8 L341.8,424.6 L343.8,424.4 L345.4,425.5 L344.9,427.8 L346.7,429.0 L347.8,429.6 L349.3,430.2 L349.4,432.6 L351.5,433.0 L353.0,434.1 L354.9,434.5 L356.2,432.6 L358.2,432.3 L360.0,431.7 L360.8,430.3 L363.0,430.8 L363.6,429.0 L365.6,429.0 L366.9,430.7 L368.9,429.8 L368.9,432.2 L370.5,432.9 L371.2,434.3 L372.4,435.8 L372.9,437.6 L374.3,439.0 L375.4,440.5 L374.8,442.9 L376.7,444.0 L376.6,446.2 L378.4,447.3 L377.9,449.7 L380.2,450.4 L382.0,450.6 L383.6,451.0 L384.6,449.3 L385.6,448.2 L385.4,446.4 L386.7,445.5 L388.1,444.6 L388.8,445.2 L388.5,447.2 L389.4,448.4 L391.4,449.1 L392.7,450.3 L393.8,451.7 L395.3,451.6 L396.8,452.8 L398.4,451.7 L399.5,450.5 L400.9,450.2 L402.7,450.9 L403.7,451.9 L405.5,451.4 L406.9,451.9 L408.2,452.9 L409.4,454.2 L411.4,454.3 L412.6,454.5 L414.0,453.9 L415.5,453.5 L417.2,453.7 L418.6,454.7 L419.8,456.0 L420.6,457.7 L422.5,457.3 L423.7,458.5 L425.4,458.9 L427.1,459.5 L428.6,460.4 L429.8,461.0 L431.1,460.2 L432.2,458.8 L433.6,458.2 L434.7,457.1 L436.1,456.4 L437.2,455.4 L437.9,454.1 L439.7,454.7 L441.1,454.2 L442.2,453.5 L443.7,454.1 L445.1,453.3 L446.5,453.1 L447.9,452.8 L449.3,454.1 L450.3,454.6 L450.8,456.0"/>
</g>
</g>
<path d="M10.5,156.5 L22.5,149.75 L33.75,142.25 L50,133.5 L60,126 L80,112.5 L81.6222,111.426 L83.1945,110.269 L84.8513,109.252 L86.9854,108.296 L89.2679,107.711 L91.1531,106.298 L93.3216,105.159 L95.5841,104.143" fill="none" stroke="#000" stroke-width="1.35" stroke-linejoin="round" stroke-linecap="round"/>
<path d="M95.5841,104.143 L95.2844,102.245 L95.3906,100.444 L96.9936,98.7427 L98.755,98.8047 L100.493,99.1016 L102.691,101.081 L105.054,101.233 L107.483,100.388 L109.349,99.9027 L111.292,99.6586 L113.044,98.6976 L115.037,98.6396 L117.237,98.3069 L119.301,97.3586 L121.59,97.3919 L122.227,98.5116 L122.779,100.11 L122.778,102.253 L122.587,104.51 L122.203,106.795 L121.933,109.096 L122.495,110.645 L122.595,112.674 L123.721,114.386 L124.532,116.237 L125.182,118.295 L126.416,120.045 L127.697,121.803 L129.591,122.909 L131.655,122.996 L133.706,123.876 L135.812,123.195 L137.875,123.763 L139.938,123.586 L142,123.935 L142.4,121.125 L142.144,118.75 L141.336,116.674 L141.074,114.55 L143.492,113.728 L145.601,113.269 L147.708,112.375 L149.993,112.433 L151.755,110.47 L153.586,111.477 L155.224,112.116 L157.544,113.103 L159.994,114.02 L162.146,114.238 L164.106,115.251 L166.343,115.111 L168.43,116.092 L170.498,116.964 L172.532,117.92 L174.252,118.89 L176.212,119.21 L177.94,120.165 L178.127,122.575 L179.326,124.935 L178.924,127.533 L179.411,130.009 L181.189,130.714 L182.973,131.093 L185.232,130.419 L187.421,129.645 L189.857,128.463 L191.265,130.75 L192.263,132.876 L193.542,131.258 L195.329,129.8 L197.529,128.797 L199.423,128.614 L201.303,128.263 L203.298,127.009 L204.809,125.213 L207.036,124.491 L208.593,122.765 L210.574,122.369 L212.475,122.311 L214.418,121.314 L216.024,119.661 L218.044,119.133 L219.971,118.664 L221.705,117.455 L222.936,115.686 L224.445,114.195 L225.918,112.668 L227.241,110.991 L229.325,109.594 L230.917,107.744 L232.341,105.753 L233.68,103.692 L235.128,102.051 L236.454,100.307 L238.106,98.84 L236.363,96.1708 L238.423,95.8927 L240.654,96.2106 L242.829,95.8854 L244.978,95.2477 L247.353,95.611 L249.678,95.3231 L251.984,94.7753 L253.582,95.5861 L254.899,96.7025 L257.574,96.6295 L260.011,97.4451 L262.839,99.1353 L263.546,96.7935 L264.503,95.0011 L263.994,93.1694 L263.135,91.5159 L262.232,89.884 L261.028,87.4889 L260.359,84.8563 L258.8,82.8389 L258.314,80.3605 L259.575,79.1853 L261.337,78.1129 L262.961,77.256 L264.496,76.1581 L266.322,75.6435 L268.355,75.0913 L270.519,74.9265 L272.535,74.146 L274.826,73.6133 L277.151,73.2263 L279.549,73.3452 L280.133,74.5841 L280.356,76.2942 L279.828,78.7157 L279.09,81.168 L280.273,84.458 L281.82,84.8146 L283.693,84.539 L285.489,85.1255 L287.404,85.3076 L289.314,85.5512 L291.221,85.8284 L293.726,85.0093 L296.282,85.3228 L296.743,83.081 L297.415,81.2215 L299.181,79.7097 L301.266,78.7738 L302.113,76.3974 L303.603,74.4135 L305.123,72.9695 L306.427,71.3858 L308.212,69.6237 L310.639,68.7153 L312.518,69.2029 L314.593,69.7517 L316.496,71.6828 L318.626,73.1757 L319.402,74.6147 L319.974,76.26 L319.395,78.3503 L318.885,80.4729 L317.802,81.8677 L316.799,83.3657 L315.033,84.0177 L313.054,84.4281 L311.213,85.7843 L313.123,87.3775 L314.91,87.7389 L316.797,88.2468 L318.756,87.9254 L321.238,87.6329 L323.755,87.5513 L325.572,88.1499 L327.49,88.0785 L328.896,89.5126 L329.817,91.3908 L333.17,90.4086 L334.804,88.6942 L336.188,86.9328 L337.666,85.1664 L339.475,83.7251 L340.462,81.4555 L341.713,79.3315 L342.453,77.2396 L343.308,75.0684 L344.378,73.8785 L345.448,72.4479 L346.848,74.3005 L348.946,75.2876 L350.669,75.6545 L352.54,76.0502 L353.444,77.9503 L354.199,79.7638 L355.591,81.1957 L354.635,83.0811 L353.957,84.9688 L353.768,87.0055 L352.548,88.9904 L351.676,91.1166 L353.018,92.9057 L354.255,94.4303 L355.328,96.0531 L356.683,97.9786 L358.028,99.9774 L359.405,102.338 L360.142,104.943 L361.254,106.872 L362.623,108.668 L364.969,109.333 L367.491,109.562 L369.386,108.778 L371.295,108.112 L372.447,109.303 L373.805,110.445 L373.672,112.799 L372.922,114.987 L373.775,116.925 L374.16,118.923 L376.264,119.109 L378.774,119.258 L380.833,119.73 L382.917,119.193 L385,119.445 L386.598,118.646 L387.959,117.438 L389.858,118.185 L391.907,117.997 L393.813,118.461 L396.22,118.175 L398.732,117.88 L400.662,116.289 L402.315,114.301 L404.19,113.714 L405.915,112.996 L407.561,112.123 L409.198,113.722 L411.485,114.706 L412.81,116.619 L414.448,118.15 L416.054,119.717 L416.812,121.291 L417.119,123.116 L416.769,125.032 L418.397,126.957 L420.234,128.563 L421.695,129.887 L423.586,130.594 L425.457,131.344 L426.863,132.523 L428.441,133.498 L430.084,134.383 L432.616,134.865 L435.041,135.864 L437.507,135.946 L439.981,135.386 L442.481,135.212 L444.569,136.459 L446.252,137.997 L446.212,140.077 L446.796,142.038 L448.658,141.196 L450.477,141.142 L452.162,141.035 L453.668,140.147 L454.618,142.155 L456.11,143.361 L457.041,144.97 L455.547,146.331 L454.241,147.784 L453.142,149.892 L451.048,151.048 L452.261,152.739 L453.535,153.965 L451.975,154.805 L450.57,156.341 L449.777,158.196 L449.121,160.173 L449.589,162.473 L447.984,163.892 L446.437,165.243 L445.851,167.25 L445.907,169.5 L444.786,170.822 L443.891,172.618 L444.457,174.309 L444.564,176.237 L443.57,178.339 L442.11,180.073 L440.676,181.439 L439.626,183.105 L441.362,184.902 L443.847,186.878 L442.245,188.975 L441.611,191.462 L439.757,193.232 L438.664,195.45 L436.611,196.209 L434.442,196.836 L433.892,199.31 L432.204,201.111 L431.148,203.244 L429.571,205.056 L429.489,206.25 L429.646,208.821 L430.74,211.202 L432.109,213.139 L433.416,215.29 L434.621,216.793 L434.874,218.792 L434.669,221.323 L433.691,223.735 L434.431,225.606 L434.944,227.519 L437.397,226.464 L439.935,225.99 L441.731,225.277 L442.815,223.529 L444.385,222.362 L446.402,224.129 L448.862,224.81 L451.223,226.067 L453.773,226.942 L455.78,226.306 L457.932,226.628 L460,226.253 L461.714,227.208 L463.537,227.825 L465.616,227.635 L467.839,227.913 L470.156,227.524 L472.476,227.17 L474.51,228.285 L476.739,227.972 L478.75,228.752 L480.17,229.83 L481.204,231.296 L481.882,233.074 L481.687,235.063 L483.839,235.11 L485.691,235.066 L487.476,235.769 L489.804,235.551 L491.965,236.461 L493.338,238.007 L494.028,240.16 L495.8,241.654 L496.851,243.652 L498.167,245.885 L499.637,248.042 L500.237,249.975 L501.395,251.627 L501.307,254.322 L503.482,254.132 L505.903,254.098 L508.286,254.277 L510.653,254.785 L513.106,254.801 L512.627,257.039 L511.563,258.671 L510.291,260.635 L508.778,262.507 L506.598,263.918 L505.299,266.189 L503.269,267.573 L501.292,268.896 L500.803,270.435 L500.388,272.256 L501.316,273.823 L502.495,275.596 L503.333,278.141 L505.189,280.067 L506.291,281.569 L507.81,282.73 L510.394,282.61 L512.982,281.617 L515.715,281.82 L518.39,281.638 L520.715,283.15 L522.971,284.455 L523.347,286.867 L523.358,289.188 L525.836,290.594 L527.491,292.509 L527.046,294.755 L526.666,296.821 L526.898,298.939 L525.829,301.215 L524.788,303.461 L523.854,305.667 L522.828,307.847 L524.022,309.378 L525.844,310.236 L527.531,312.119 L529.287,313.933 L530.363,315.96 L531.602,317.821 L531.241,319.638 L530.402,321.451 L528.521,322.199 L526.811,322.554 L523.816,321.09 L522.068,320.392 L520.152,320.474 L517.907,322.55 L516.68,324.89 L515.787,326.762 L514.679,328.579 L513.243,330.178 L511.144,331.091 L509.258,331.873 L507.586,333.185 L505.144,335.18 L502.89,337.168 L500.602,338.831 L499.133,341.083 L500.492,342.494 L502.132,344.194 L501.891,346.889 L502.824,349.244 L500.816,349.949 L498.518,350.846 L496.154,351.531 L495.004,352.802 L496.168,355.104 L497.354,356.01 L497.388,358.23 L496.251,360.125 L493.616,360.677 L491.81,359.106 L492.081,357.63 L492.737,355.177 L492.564,353.371 L490.599,352.426 L487.612,352.462 L486.416,355.156 L483.612,353.971 L481.943,352.848 L479.849,352.621 L477.679,351.578 L475.592,350.27 L473.943,351.837 L471.81,352.168 L471.666,354.757 L471.259,357.001 L469.657,358.214 L469.037,360.239 L467.078,361.381 L464.973,361.95 L463.657,363.423 L462.249,364.791 L461.914,366.79 L460.525,368.179 L459.873,369.937 L458.934,372.474 L458.401,375.161 L458.111,376.928 L458.999,378.7 L457.384,380.153 L455.909,381.466 L454.956,383.912 L453.048,385.541 L453.384,387.522 L454.678,389.179 L452.645,390.926 L451.033,392.812 L449.268,394.366 L447.22,395.65 L446.697,398.2 L446.593,400.595 L445.326,402.925 L444.78,405.445 L443.58,407.439 L442.284,409.477 L443.063,411.037 L443.728,413.01 L445.159,414.091 L445.94,415.81 L445.256,417.546 L443.919,419.363 L443.454,421.832 L442.283,424.196 L442.838,426.822 L443.968,429.196 L443.696,430.019 L446.348,431.715 L447.598,432.889 L449.031,434.106 L449.653,435.982 L451.198,437.935 L452.945,439.803 L453.594,441.984 L454.3,444.1 L456.344,445.307 L458.517,446.268 L460.147,447.853 L461.42,449.704 L460.558,452.405 L459.198,454.749 L460.885,456.254 L462.642,457.671 L463.82,459.937 L464.152,462.515 L462.868,464.898 L461.94,467.474 L461.081,469.665 L459.67,471.585 L458.208,473.22 L456.232,474.397 L457.185,476.628 L457.465,478.739 L455.377,480.577 L453.865,482.565 L451.494,482.921 L449.237,482.615 L446.918,482.061 L444.35,481.774 L443.576,483.26 L442.034,484.374 L440.041,485.022 L438.093,486.179 L435.865,485.153 L433.739,484.379 L431.717,485.551 L429.611,486.232 L428.434,487.917 L426.463,489.21 L425.39,491.266 L423.915,492.995 L422.079,491.407 L421.105,489.316 L419.161,489.856 L417.262,489.829 L415.417,490.234 L412.953,491.276 L410.559,492.579 L408.847,493.302 L406.944,493.814 L405.297,494.757 L404.697,493.425 L403.552,492.009 L402.866,490.011 L402.009,487.964 L402.69,485.879 L403.487,483.761 L402.621,481.415 L401.284,479.458 L399.837,478.063 L398.545,476.555 L397.26,474.381 L395.626,472.383 L393.894,471.568 L392.793,469.993 L391.211,469.009 L389.255,469.58 L387.167,470.003 L385.718,468.526 L384.546,467.172 L382.846,464.675 L383.794,461.564 L381.27,459.184 L379.667,458.005 L378.222,456.405 L376.633,454.769 L375.159,452.873 L372.482,452.933 L370.015,452.35 L367.459,451.885 L364.922,451.26 L363.345,450.391 L361.853,449.502 L360.074,447.843 L358.597,445.986 L357.234,444.016 L355.407,442.101 L353.659,440.07 L351.297,438.882 L348.891,437.647 L346.953,436.924 L345.643,435.199 L344.01,433.903 L341.989,432.678 L340.139,431.195 L338.865,429.135 L336.915,429.746 L335.47,431.023 L333.825,431.9 L331.731,432.561 L329.675,433.242 L327.46,433.358 L325.736,432.663 L324.367,431.166 L322.457,430.571 L322.801,427.919 L323.896,425.536 L324.429,423.725 L323.92,421.788 L324.919,420.057 L324.394,417.899 L324.239,415.805 L324.148,413.702 L324.622,412.103 L325.445,410.431 L325.962,408.606 L325.796,406.262 L325.547,403.743 L323.827,401.747 L322.452,399.534 L319.97,398.85 L317.587,397.709 L315.566,397.251 L313.901,395.927 L313.883,393.714 L314.635,391.27 L315.75,389.375 L316.851,387.401 L318.103,385.731 L319.149,383.936 L318.043,381.3 L318.277,378.708 L318.641,376.106 L319.879,373.702 L321.015,372.005 L321.647,370.132 L323.109,369.055 L324.421,367.397 L324.337,365.583 L324.171,363.666 L325.348,361.598 L327.709,360.209 L326.668,358.388 L325.824,356.784 L323.36,356.292 L321.293,355.378 L318.75,355.264 L316.25,355.503 L314.476,356.419 L313.056,357.881 L311.473,359.094 L309.553,360.803 L307.191,362.191 L305.664,364.048 L303.532,365.227 L301.826,366.826 L300.235,368.485 L299.956,371.241 L299.687,373.787 L299.569,375.841 L299.591,377.936 L299.801,380.016 L300.253,382.117 L300.065,384.198 L299.919,386.284 L298.013,387.679 L296.308,388.826 L294.198,389.445 L292.02,389.692 L289.936,390.271 L287.976,391.352 L285.875,391.963 L283.643,392.165 L281.98,393.612 L280.669,395.337 L278.842,396.373 L276.559,396.813 L274.571,397.886 L272.6,399 L270.69,399.406 L268.785,399.765 L267.088,400.777 L265.019,400.128 L263.256,399.04 L261.221,398.845 L258.731,398.201 L256.357,397.073 L254.248,396.679 L252.049,396.84 L249.912,396.691 L247.859,396.123 L245.917,394.997 L243.786,394.821 L241.714,395.653 L239.512,395.477 L237.433,395.917 L235.685,395.444 L233.613,395.412 L231.889,393.729 L229.861,392.708 L228.567,390.747 L227.42,388.803 L226.789,386.272 L226.585,383.666 L227.018,381.213 L227.716,378.651 L230.1,377.229 L232.484,376.221 L234.264,374.833 L236.419,374.004 L235.485,371.211 L234.697,368.681 L234.461,366.221 L235.06,363.756 L233.22,362.357 L231.024,361.588 L229.099,360.712 L227.043,359.855 L225.96,358.241 L225.882,356.097 L226.101,354.467 L226.859,352.763 L228.151,351.326 L229.168,348.876 L229.735,346.321 L229.153,343.746 L228.597,341.273 L229.787,339.233 L230.924,337.283 L232.682,335.343 L234.59,333.573 L234.373,331.588 L235.139,329.723 L232.502,329.293 L230.427,328.518 L227.663,326.974 L229.014,328.333 L230.139,331.066 L228.628,333.419 L226.2,333.048 L224.466,330.564 L224.424,328.655 L223.849,326.95 L223.799,324.945 L222.648,323.32 L220.728,321.646 L219.013,319.685 L217.18,318.236 L215.73,316.353 L213.705,315.045 L212.352,313.254 L210.46,312.043 L207.563,313.19 L205.544,312.968 L203.728,313.641 L201.298,314.442 L198.741,314.439 L196.193,315.213 L193.858,316.559 L191.872,315.89 L189.99,315.549 L188.004,314.883 L186.321,313.598 L183.752,314.136 L181.237,314.415 L178.755,314.093 L176.265,313.648 L174.296,314.137 L172.505,315.014 L171.131,316.678 L170.181,318.58 L169.661,320.394 L169.05,322.162 L166.244,320.007 L165.278,318.17 L164.817,316.102 L163.59,313.798 L162.621,311.364 L162.56,309.189 L163.006,307.056 L162.161,305.027 L162.445,302.844 L161.605,300.846 L161.286,298.743 L161.102,296.216 L160.827,293.701 L158.95,291.802 L158.069,289.46 L156.267,287.405 L155.34,284.773 L153.26,283.547 L151.127,282.684 L148.736,282.388 L146.293,281.574 L143.811,281.217 L141.286,281.012 L140.227,279.242 L139.758,277.071 L138.16,276.164 L136.152,275.745 L134.988,277.116 L134.102,279.021 L132.099,279.615 L130.426,280.436 L128.618,280.985 L126.283,282.009 L123.663,282.151 L121.508,281.449 L119.28,280.374 L117.232,279.04 L114.878,278.274 L114.057,276.312 L112.717,274.975 L111.544,273.49 L110.186,272.199 L109.885,270.266 L109.083,268.583 L108.931,266.221 L109.78,263.792 L108.885,261.694 L108.225,259.649 L108.154,257.463 L107.273,255.457 L106.661,253.381 L106.375,251.215 L105.501,248.706 L104.088,246.394 L104.584,243.667 L105.532,241.256 L104.3,239.8 L103.439,238.167 L101.774,236.763 L99.6549,235.874 L98.6769,233.679 L97.854,231.108 L96.9948,229.277 L96.5291,227.291 L95.078,225.647 L94.9047,224.814 L93.902,223.446 L92.8829,222.085 L91.1471,221.18 L89.4196,220.141 L87.5,219.781 L85.5,219.596 L83.5028,221.212 L82.0644,223.075 L79.75,222.907 L77.5,223.242 L75.2873,223.668 L72.9197,223.638 L71.2298,225.222 L69.7156,226.802 L67.8877,228.51 L66.0481,230.336 L64.875,231.896 L64.0186,233.724 L62.7108,235.427 L61.6383,237.333 L60.9781,238.98 L60.2079,240.596 L58.1824,238.757 L55.53,236.963 L53.3431,236.979 L51.2609,237.592 L49.4893,236.464 L47.3353,236.412 L46.3811,234.579 L45.2684,233.154 L44.0734,231.11 L43.1795,228.888 L41.8664,227.379 L41.5542,225.348 L39.6685,224.193 L38.2061,222.732 L36.3859,221.228 L35.1656,219.209 L34.2619,217.712 L34.1286,215.779 L31.6623,215.694 L29.5207,215.725 L27.4698,215.189 L25.7139,214.626 L23.9404,214.209 L22.8421,211.053 L21.8047,209.63 L20.8116,208.126 L18.9519,205.538 L18.8194,203.307 L19.4215,201.173 L19.7757,199.021 L18.4892,197.63 L18.1104,195.945 L17.1587,192.947 L18.8712,190.397 L19.6514,188.217 L20.1924,185.897 L19.5954,183.708 L18.8933,181.325 L18.6989,179.593 L18.1433,177.707 L16.7247,177.06 L15.1034,176.292 L13.5315,174.103 L14.6032,172.206 L14.1589,170.134 L13.4026,168.309 L12.8337,166.448 L12.9231,164.456 L12.4165,162.631 L12.2909,160.736 L12.1329,158.847 L10.5,156.5" fill="none" stroke="#000" stroke-width="1.9" stroke-linejoin="round" stroke-linecap="round"/>
<ellipse cx="332.5" cy="81" rx="2.2" ry="2.8" fill="#000" transform="rotate(30 332.5 81)"/>
<circle cx="167.9" cy="321.4" r="1.5" fill="#000"/>
<rect x="560" y="95.95" width="25" height="49.40" fill="#a50026"/>
<rect x="560" y="145.05" width="25" height="49.40" fill="#e34a33"/>
<rect x="560" y="194.15" width="25" height="49.40" fill="#fca55d"/>
<rect x="560" y="243.25" width="25" height="49.40" fill="#fee99d"/>
<rect x="560" y="292.35" width="25" height="49.40" fill="#e9f6e8"/>
<rect x="560" y="341.45" width="25" height="49.40" fill="#a3d3e6"/>
<rect x="560" y="390.55" width="25" height="49.40" fill="#598dc0"/>
<rect x="560" y="439.65" width="25" height="49.40" fill="#313695"/>
<text x="597.5" y="100.85" font-size="15.2" textLength="21.3" lengthAdjust="spacingAndGlyphs">4.5</text>
<text x="597.5" y="149.95" font-size="15.2" textLength="8.2" lengthAdjust="spacingAndGlyphs">4</text>
<text x="597.5" y="199.05" font-size="15.2" textLength="21.3" lengthAdjust="spacingAndGlyphs">3.5</text>
<text x="597.5" y="248.15" font-size="15.2" textLength="8.2" lengthAdjust="spacingAndGlyphs">3</text>
<text x="597.5" y="297.25" font-size="15.2" textLength="21.3" lengthAdjust="spacingAndGlyphs">2.5</text>
<text x="597.5" y="346.35" font-size="15.2" textLength="8.2" lengthAdjust="spacingAndGlyphs">2</text>
<text x="597.5" y="395.45" font-size="15.2" textLength="21.3" lengthAdjust="spacingAndGlyphs">1.5</text>
<text x="597.5" y="444.55" font-size="15.2" textLength="8.2" lengthAdjust="spacingAndGlyphs">1</text>
<text x="597.5" y="493.65" font-size="15.2" textLength="21.3" lengthAdjust="spacingAndGlyphs">0.5</text>
<text x="610.9" y="75.1" font-size="16.4">°</text><text x="619" y="73.9" font-size="15.2" font-weight="bold" textLength="10.7" lengthAdjust="spacingAndGlyphs">C</text>
<text x="17.9" y="31" font-size="15.2" font-weight="bold" textLength="347.2" lengthAdjust="spacingAndGlyphs">Maandelijkse gemiddelde temperatuur - december</text>
<text x="17.9" y="52" font-size="15.2" textLength="143.4" lengthAdjust="spacingAndGlyphs">Normalen 1981 - 2010</text>
<path d="M39,413 L52.5,413 C56,417 60,423 61.7,430 C62.3,436 61.5,440 60,444 C58,448 56,451 54.8,455 C53.8,458 53.3,460 53,462 L39,462 Z" fill="#1a5df2"/>
<path d="M87.6,416 C85,417 83,418.5 82,419.3 C80,420.8 78.5,422.5 77.4,424 C76,426 75,428.5 74.4,431 C73.8,433.5 73.6,435.5 72.9,437.3 C72,439.5 70.5,441.3 68.9,442.9 C66.5,445.2 64.8,447 63.3,449.2 C61.5,451.5 60.3,453 59.4,454.8 C58.3,457 57.5,459.5 57,462 L87.6,462 Z" fill="#1a5df2"/>
<text x="36.5" y="478.8" font-size="19.8" fill="#1a5df2" stroke="#1a5df2" stroke-width="0.45" textLength="55.4" lengthAdjust="spacingAndGlyphs">KMI</text>
<text x="177.8" y="477" font-size="11.6" font-weight="bold" fill="#1a5df2" textLength="137.3" lengthAdjust="spacingAndGlyphs">www.meteo.be/klimaatlas</text>
</svg>
</body></html>
